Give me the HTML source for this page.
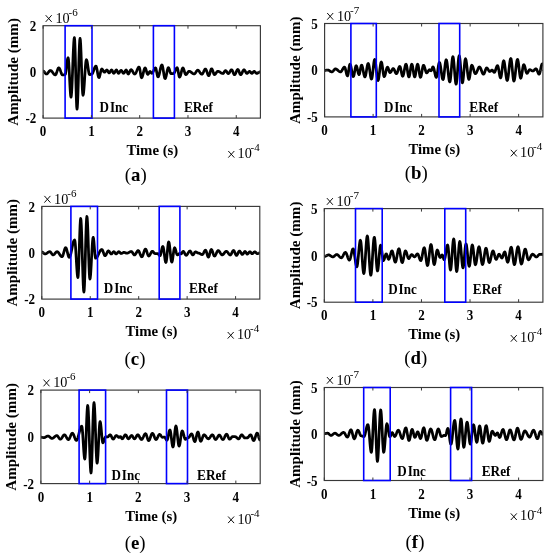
<!DOCTYPE html>
<html><head><meta charset="utf-8"><style>
html,body{margin:0;padding:0;background:#fff;width:550px;height:556px;overflow:hidden}
svg{display:block;will-change:transform}
text{font-family:"Liberation Serif", serif;fill:#000}
.tk{font-weight:bold}
.lb{font-weight:bold}
</style></head><body>
<svg width="550" height="556" viewBox="0 0 550 556">
<clipPath id="ca"><rect x="43.1" y="23.7" width="217.29999999999998" height="96.39999999999999"/></clipPath>
<path d="M43.00,71.00 L43.32,71.06 L43.64,71.24 L43.95,71.52 L44.27,71.88 L44.59,72.29 L44.91,72.71 L45.23,73.12 L45.55,73.48 L45.86,73.76 L46.18,73.94 L46.50,74.00 L46.83,73.94 L47.15,73.77 L47.48,73.49 L47.80,73.12 L48.12,72.70 L48.45,72.25 L48.77,71.80 L49.10,71.38 L49.42,71.01 L49.75,70.73 L50.07,70.56 L50.40,70.50 L50.71,70.54 L51.01,70.67 L51.32,70.87 L51.62,71.14 L51.93,71.48 L52.24,71.86 L52.54,72.27 L52.85,72.70 L53.16,73.13 L53.46,73.54 L53.77,73.92 L54.07,74.26 L54.38,74.53 L54.69,74.73 L54.99,74.86 L55.30,74.90 L55.62,74.76 L55.94,74.34 L56.25,73.67 L56.57,72.82 L56.89,71.86 L57.21,70.84 L57.53,69.88 L57.85,69.03 L58.16,68.36 L58.48,67.94 L58.80,67.80 L59.11,67.92 L59.42,68.28 L59.72,68.84 L60.03,69.58 L60.34,70.43 L60.65,71.35 L60.96,72.27 L61.27,73.12 L61.58,73.86 L61.88,74.42 L62.19,74.78 L62.50,74.90 L62.81,74.89 L63.12,74.87 L63.44,74.84 L63.75,74.80 L64.06,74.76 L64.38,74.73 L64.69,74.71 L65.00,74.70 L65.31,74.29 L65.62,73.09 L65.93,71.22 L66.24,68.86 L66.55,66.25 L66.86,63.64 L67.17,61.28 L67.48,59.41 L67.79,58.21 L68.10,57.80 L68.42,58.99 L68.74,62.40 L69.07,67.62 L69.39,74.04 L69.71,80.86 L70.03,87.27 L70.36,92.50 L70.68,95.91 L71.00,97.10 L71.31,95.90 L71.62,92.39 L71.93,86.85 L72.24,79.74 L72.55,71.63 L72.85,63.17 L73.16,55.06 L73.47,47.95 L73.78,42.41 L74.09,38.90 L74.40,37.70 L74.73,40.42 L75.05,48.17 L75.38,59.77 L75.70,73.45 L76.03,87.13 L76.35,98.73 L76.67,106.48 L77.00,109.20 L77.31,107.47 L77.61,102.44 L77.91,94.61 L78.22,84.74 L78.53,73.80 L78.83,62.86 L79.13,52.99 L79.44,45.16 L79.75,40.13 L80.05,38.40 L80.38,40.12 L80.71,45.06 L81.03,52.62 L81.36,61.91 L81.69,71.79 L82.02,81.07 L82.34,88.64 L82.67,93.58 L83.00,95.30 L83.31,94.58 L83.62,92.47 L83.93,89.16 L84.24,84.89 L84.55,80.03 L84.85,74.97 L85.16,70.11 L85.47,65.84 L85.78,62.53 L86.09,60.42 L86.40,59.70 L86.72,60.07 L87.04,61.13 L87.36,62.79 L87.68,64.88 L88.00,67.20 L88.32,69.52 L88.64,71.61 L88.96,73.27 L89.28,74.33 L89.60,74.70 L89.90,74.67 L90.20,74.59 L90.50,74.47 L90.80,74.33 L91.10,74.21 L91.40,74.13 L91.70,74.10 L92.00,74.00 L92.30,73.70 L92.60,73.23 L92.90,72.59 L93.20,71.84 L93.50,70.99 L93.80,70.10 L94.10,69.21 L94.40,68.36 L94.70,67.61 L95.00,66.97 L95.30,66.50 L95.60,66.20 L95.90,66.10 L96.20,66.38 L96.50,67.20 L96.80,68.47 L97.10,70.07 L97.40,71.85 L97.70,73.63 L98.00,75.23 L98.30,76.50 L98.60,77.32 L98.90,77.60 L99.22,77.34 L99.54,76.59 L99.87,75.45 L100.19,74.05 L100.51,72.55 L100.83,71.15 L101.16,70.01 L101.48,69.26 L101.80,69.00 L102.12,69.12 L102.45,69.47 L102.78,69.99 L103.10,70.60 L103.42,71.21 L103.75,71.73 L104.08,72.08 L104.40,72.20 L104.71,72.12 L105.03,71.88 L105.34,71.52 L105.65,71.10 L105.96,70.68 L106.28,70.32 L106.59,70.08 L106.90,70.00 L107.21,70.14 L107.53,70.55 L107.84,71.13 L108.16,71.77 L108.47,72.35 L108.79,72.76 L109.10,72.90 L109.41,72.79 L109.72,72.48 L110.04,72.00 L110.35,71.45 L110.66,70.90 L110.97,70.42 L111.29,70.11 L111.60,70.00 L111.91,70.16 L112.23,70.62 L112.54,71.28 L112.86,72.02 L113.17,72.68 L113.49,73.14 L113.80,73.30 L114.12,73.17 L114.45,72.82 L114.78,72.28 L115.10,71.65 L115.42,71.02 L115.75,70.48 L116.08,70.13 L116.40,70.00 L116.75,70.22 L117.10,70.83 L117.45,71.65 L117.80,72.48 L118.15,73.08 L118.50,73.30 L118.83,73.19 L119.15,72.88 L119.47,72.40 L119.80,71.85 L120.12,71.30 L120.45,70.82 L120.77,70.51 L121.10,70.40 L121.41,70.51 L121.72,70.82 L122.04,71.30 L122.35,71.85 L122.66,72.40 L122.97,72.88 L123.29,73.19 L123.60,73.30 L123.92,73.17 L124.25,72.82 L124.58,72.28 L124.90,71.65 L125.22,71.02 L125.55,70.48 L125.88,70.13 L126.20,70.00 L126.53,70.27 L126.87,71.00 L127.20,72.00 L127.53,73.00 L127.87,73.73 L128.20,74.00 L128.52,73.87 L128.84,73.50 L129.17,72.92 L129.49,72.22 L129.81,71.48 L130.13,70.78 L130.46,70.20 L130.78,69.83 L131.10,69.70 L131.43,69.79 L131.75,70.04 L132.08,70.44 L132.41,70.96 L132.74,71.54 L133.06,72.16 L133.39,72.74 L133.72,73.26 L134.05,73.66 L134.37,73.91 L134.70,74.00 L135.01,73.91 L135.33,73.66 L135.64,73.25 L135.96,72.70 L136.27,72.05 L136.59,71.32 L136.90,70.55 L137.21,69.78 L137.53,69.05 L137.84,68.40 L138.16,67.85 L138.47,67.44 L138.79,67.19 L139.10,67.10 L139.41,67.50 L139.72,68.65 L140.04,70.37 L140.35,72.40 L140.66,74.43 L140.97,76.15 L141.29,77.30 L141.60,77.70 L141.92,77.50 L142.24,76.92 L142.55,76.01 L142.87,74.84 L143.19,73.50 L143.51,72.10 L143.83,70.76 L144.15,69.59 L144.46,68.68 L144.78,68.10 L145.10,67.90 L145.40,68.10 L145.70,68.66 L146.00,69.53 L146.30,70.59 L146.60,71.71 L146.90,72.78 L147.20,73.64 L147.50,74.20 L147.80,74.40 L148.11,74.26 L148.43,73.85 L148.74,73.27 L149.06,72.63 L149.37,72.05 L149.69,71.64 L150.00,71.50 L150.30,71.62 L150.60,71.95 L150.90,72.40 L151.20,72.85 L151.50,73.18 L151.80,73.30 L152.11,73.21 L152.42,72.94 L152.73,72.51 L153.03,71.95 L153.34,71.30 L153.65,70.60 L153.96,69.90 L154.27,69.25 L154.57,68.69 L154.88,68.26 L155.19,67.99 L155.50,67.90 L155.81,68.24 L156.12,69.22 L156.44,70.68 L156.75,72.40 L157.06,74.12 L157.38,75.58 L157.69,76.56 L158.00,76.90 L158.30,76.73 L158.60,76.22 L158.90,75.40 L159.20,74.33 L159.50,73.06 L159.80,71.67 L160.10,70.23 L160.40,68.84 L160.70,67.57 L161.00,66.50 L161.30,65.68 L161.60,65.17 L161.90,65.00 L162.22,65.33 L162.54,66.30 L162.86,67.80 L163.18,69.70 L163.50,71.80 L163.82,73.90 L164.14,75.80 L164.46,77.30 L164.78,78.27 L165.10,78.60 L165.40,78.38 L165.70,77.73 L166.00,76.72 L166.30,75.41 L166.60,73.93 L166.90,72.37 L167.20,70.89 L167.50,69.58 L167.80,68.57 L168.10,67.92 L168.40,67.70 L168.72,67.92 L169.05,68.55 L169.38,69.49 L169.70,70.60 L170.03,71.71 L170.35,72.65 L170.68,73.28 L171.00,73.50 L171.31,73.50 L171.62,73.50 L171.94,73.50 L172.25,73.50 L172.56,73.50 L172.88,73.50 L173.19,73.50 L173.50,73.50 L173.83,73.38 L174.15,73.04 L174.48,72.50 L174.81,71.80 L175.14,71.01 L175.46,70.19 L175.79,69.40 L176.12,68.70 L176.45,68.16 L176.77,67.82 L177.10,67.70 L177.41,68.06 L177.72,69.08 L178.04,70.60 L178.35,72.40 L178.66,74.20 L178.97,75.72 L179.29,76.74 L179.60,77.10 L179.90,76.92 L180.20,76.38 L180.50,75.53 L180.80,74.44 L181.10,73.20 L181.40,71.90 L181.70,70.66 L182.00,69.57 L182.30,68.72 L182.60,68.18 L182.90,68.00 L183.22,68.20 L183.54,68.77 L183.87,69.65 L184.19,70.73 L184.51,71.87 L184.83,72.95 L185.16,73.83 L185.48,74.40 L185.80,74.60 L186.13,74.52 L186.46,74.28 L186.79,73.92 L187.12,73.46 L187.45,72.95 L187.78,72.44 L188.11,71.98 L188.44,71.62 L188.77,71.38 L189.10,71.30 L189.42,71.32 L189.74,71.40 L190.06,71.52 L190.38,71.68 L190.69,71.88 L191.01,72.10 L191.33,72.35 L191.65,72.60 L191.97,72.85 L192.29,73.10 L192.61,73.32 L192.92,73.52 L193.24,73.68 L193.56,73.80 L193.88,73.88 L194.20,73.90 L194.50,73.84 L194.80,73.65 L195.10,73.36 L195.40,72.98 L195.70,72.53 L196.00,72.05 L196.30,71.57 L196.60,71.12 L196.90,70.74 L197.20,70.45 L197.50,70.26 L197.80,70.20 L198.11,70.26 L198.42,70.43 L198.72,70.70 L199.03,71.06 L199.34,71.49 L199.65,71.96 L199.95,72.44 L200.26,72.91 L200.57,73.34 L200.88,73.70 L201.18,73.97 L201.49,74.14 L201.80,74.20 L202.11,74.11 L202.42,73.86 L202.73,73.45 L203.03,72.93 L203.34,72.31 L203.65,71.65 L203.96,70.99 L204.27,70.38 L204.57,69.85 L204.88,69.44 L205.19,69.19 L205.50,69.10 L205.82,69.26 L206.14,69.73 L206.46,70.46 L206.78,71.38 L207.10,72.40 L207.42,73.42 L207.74,74.34 L208.06,75.07 L208.38,75.54 L208.70,75.70 L209.02,75.49 L209.34,74.89 L209.67,73.98 L209.99,72.85 L210.31,71.65 L210.63,70.53 L210.96,69.61 L211.28,69.01 L211.60,68.80 L211.92,68.97 L212.24,69.48 L212.57,70.25 L212.89,71.20 L213.21,72.20 L213.53,73.15 L213.86,73.92 L214.18,74.43 L214.50,74.60 L214.80,74.53 L215.10,74.34 L215.40,74.03 L215.70,73.64 L216.00,73.18 L216.30,72.72 L216.60,72.26 L216.90,71.87 L217.20,71.56 L217.50,71.37 L217.80,71.30 L218.12,71.32 L218.44,71.38 L218.76,71.49 L219.08,71.62 L219.39,71.79 L219.71,71.98 L220.03,72.19 L220.35,72.40 L220.67,72.61 L220.99,72.82 L221.31,73.01 L221.62,73.18 L221.94,73.31 L222.26,73.42 L222.58,73.48 L222.90,73.50 L223.22,73.39 L223.55,73.08 L223.88,72.60 L224.20,72.05 L224.53,71.50 L224.85,71.02 L225.18,70.71 L225.50,70.60 L225.81,70.69 L226.12,70.95 L226.43,71.35 L226.74,71.84 L227.06,72.36 L227.37,72.85 L227.68,73.25 L227.99,73.51 L228.30,73.60 L228.63,73.51 L228.96,73.24 L229.29,72.82 L229.62,72.29 L229.95,71.70 L230.28,71.11 L230.61,70.58 L230.94,70.16 L231.27,69.89 L231.60,69.80 L231.92,69.95 L232.24,70.37 L232.57,71.03 L232.89,71.82 L233.21,72.68 L233.53,73.48 L233.86,74.13 L234.18,74.55 L234.50,74.70 L234.80,74.59 L235.10,74.29 L235.40,73.80 L235.70,73.18 L236.00,72.47 L236.30,71.73 L236.60,71.02 L236.90,70.40 L237.20,69.91 L237.50,69.61 L237.80,69.50 L238.12,69.66 L238.44,70.11 L238.77,70.80 L239.09,71.65 L239.41,72.55 L239.73,73.40 L240.06,74.09 L240.38,74.54 L240.70,74.70 L241.00,74.60 L241.30,74.31 L241.60,73.85 L241.90,73.27 L242.20,72.60 L242.50,71.90 L242.80,71.23 L243.10,70.65 L243.40,70.19 L243.70,69.90 L244.00,69.80 L244.32,69.91 L244.64,70.22 L244.97,70.70 L245.29,71.29 L245.61,71.91 L245.93,72.50 L246.26,72.98 L246.58,73.29 L246.90,73.40 L247.24,73.32 L247.57,73.11 L247.91,72.78 L248.25,72.40 L248.59,72.02 L248.93,71.69 L249.26,71.48 L249.60,71.40 L249.93,71.50 L250.26,71.78 L250.59,72.18 L250.91,72.62 L251.24,73.02 L251.57,73.30 L251.90,73.40 L252.21,73.30 L252.53,73.02 L252.84,72.62 L253.16,72.18 L253.47,71.78 L253.79,71.50 L254.10,71.40 L254.40,71.46 L254.70,71.63 L255.00,71.90 L255.30,72.23 L255.60,72.57 L255.90,72.90 L256.20,73.17 L256.50,73.34 L256.80,73.40 L257.13,73.37 L257.45,73.27 L257.78,73.12 L258.11,72.93 L258.44,72.71 L258.76,72.49 L259.09,72.27 L259.42,72.08 L259.75,71.93 L260.07,71.83 L260.40,71.80" fill="none" stroke="#000" stroke-width="2.75" stroke-linejoin="round" clip-path="url(#ca)"/>
<rect x="43.1" y="25.7" width="217.29999999999998" height="92.39999999999999" fill="none" stroke="#383838" stroke-width="1.15"/>
<rect x="65.1" y="25.7" width="26.900000000000006" height="92.39999999999999" fill="none" stroke="#0000ff" stroke-width="1.6"/>
<rect x="153.4" y="25.7" width="21.0" height="92.39999999999999" fill="none" stroke="#0000ff" stroke-width="1.6"/>
<line x1="43.10" y1="118.1" x2="43.10" y2="115.1" stroke="#383838" stroke-width="1"/>
<line x1="43.10" y1="25.7" x2="43.10" y2="28.7" stroke="#383838" stroke-width="1"/>
<text transform="translate(43.10,136.30) scale(0.885,1)" class="tk" font-size="14.7" text-anchor="middle">0</text>
<line x1="91.39" y1="118.1" x2="91.39" y2="115.1" stroke="#383838" stroke-width="1"/>
<line x1="91.39" y1="25.7" x2="91.39" y2="28.7" stroke="#383838" stroke-width="1"/>
<text transform="translate(91.39,136.30) scale(0.885,1)" class="tk" font-size="14.7" text-anchor="middle">1</text>
<line x1="139.68" y1="118.1" x2="139.68" y2="115.1" stroke="#383838" stroke-width="1"/>
<line x1="139.68" y1="25.7" x2="139.68" y2="28.7" stroke="#383838" stroke-width="1"/>
<text transform="translate(139.68,136.30) scale(0.885,1)" class="tk" font-size="14.7" text-anchor="middle">2</text>
<line x1="187.97" y1="118.1" x2="187.97" y2="115.1" stroke="#383838" stroke-width="1"/>
<line x1="187.97" y1="25.7" x2="187.97" y2="28.7" stroke="#383838" stroke-width="1"/>
<text transform="translate(187.97,136.30) scale(0.885,1)" class="tk" font-size="14.7" text-anchor="middle">3</text>
<line x1="236.26" y1="118.1" x2="236.26" y2="115.1" stroke="#383838" stroke-width="1"/>
<line x1="236.26" y1="25.7" x2="236.26" y2="28.7" stroke="#383838" stroke-width="1"/>
<text transform="translate(236.26,136.30) scale(0.885,1)" class="tk" font-size="14.7" text-anchor="middle">4</text>
<line x1="43.1" y1="71.89999999999999" x2="46.1" y2="71.89999999999999" stroke="#383838" stroke-width="1"/>
<line x1="260.4" y1="71.89999999999999" x2="257.4" y2="71.89999999999999" stroke="#383838" stroke-width="1"/>
<text transform="translate(36.30,30.80) scale(0.885,1)" class="tk" font-size="14.7" text-anchor="end">2</text>
<text transform="translate(36.30,77.00) scale(0.885,1)" class="tk" font-size="14.7" text-anchor="end">0</text>
<text transform="translate(36.30,123.20) scale(0.885,1)" class="tk" font-size="14.7" text-anchor="end">-2</text>
<path d="M45.70,15.20 L51.70,21.90 M51.70,15.20 L45.70,21.90" stroke="#000" stroke-width="0.95" fill="none"/>
<text x="55.40" y="22.80" class="ex" font-size="14.2">10</text>
<text x="68.60" y="16.00" class="ex" font-size="11">-6</text>
<path d="M228.30,151.00 L234.30,157.60 M234.30,151.00 L228.30,157.60" stroke="#000" stroke-width="0.95" fill="none"/>
<text x="237.60" y="158.00" class="ex" font-size="14.2">10</text>
<text x="250.60" y="151.20" class="ex" font-size="11">-4</text>
<text x="152.35" y="155.10" class="lb" font-size="14.8" text-anchor="middle">Time (s)</text>
<text transform="translate(18.30,71.90) rotate(-90) scale(1.02,1)" text-anchor="middle" class="lb" font-size="14.8">Amplitude (mm)</text>
<text transform="translate(99.60,111.90) scale(0.885,1)" class="lb" font-size="14.8">D<tspan dx="1.0">Inc</tspan></text>
<text transform="translate(184.00,111.90) scale(0.9,1)" class="lb" font-size="14.8">ERef</text>
<text x="135.70" y="180.60" text-anchor="middle" class="cap" font-size="18.8">(<tspan font-weight="bold">a</tspan>)</text>
<clipPath id="cb"><rect x="324.6" y="21.5" width="218.29999999999995" height="97.4"/></clipPath>
<path d="M324.60,70.40 L324.92,70.39 L325.24,70.36 L325.56,70.32 L325.88,70.26 L326.20,70.20 L326.52,70.14 L326.84,70.08 L327.16,70.04 L327.48,70.01 L327.80,70.00 L328.11,70.03 L328.42,70.11 L328.72,70.24 L329.03,70.41 L329.34,70.61 L329.65,70.84 L329.95,71.06 L330.26,71.29 L330.57,71.49 L330.88,71.66 L331.18,71.79 L331.49,71.87 L331.80,71.90 L332.11,71.85 L332.42,71.70 L332.73,71.46 L333.03,71.15 L333.34,70.79 L333.65,70.40 L333.96,70.01 L334.27,69.65 L334.57,69.34 L334.88,69.10 L335.19,68.95 L335.50,68.90 L335.81,68.93 L336.12,69.01 L336.44,69.15 L336.75,69.34 L337.06,69.57 L337.38,69.83 L337.69,70.11 L338.00,70.40 L338.31,70.69 L338.62,70.97 L338.94,71.23 L339.25,71.46 L339.56,71.65 L339.88,71.79 L340.19,71.87 L340.50,71.90 L340.81,71.83 L341.12,71.63 L341.42,71.30 L341.73,70.86 L342.04,70.35 L342.35,69.79 L342.65,69.21 L342.96,68.65 L343.27,68.14 L343.58,67.70 L343.88,67.37 L344.19,67.17 L344.50,67.10 L344.80,67.32 L345.10,67.94 L345.40,68.91 L345.70,70.14 L346.00,71.50 L346.30,72.86 L346.60,74.09 L346.90,75.06 L347.20,75.68 L347.50,75.90 L347.81,75.45 L348.12,74.19 L348.44,72.29 L348.75,70.05 L349.06,67.81 L349.38,65.91 L349.69,64.65 L350.00,64.20 L350.30,64.45 L350.60,65.18 L350.90,66.34 L351.20,67.82 L351.50,69.52 L351.80,71.28 L352.10,72.98 L352.40,74.46 L352.70,75.62 L353.00,76.35 L353.30,76.60 L353.62,76.27 L353.94,75.32 L354.27,73.88 L354.59,72.10 L354.91,70.20 L355.23,68.43 L355.56,66.98 L355.88,66.03 L356.20,65.70 L356.51,65.97 L356.82,66.74 L357.13,67.92 L357.44,69.38 L357.76,70.92 L358.07,72.38 L358.38,73.56 L358.69,74.33 L359.00,74.60 L359.32,74.24 L359.65,73.21 L359.98,71.67 L360.30,69.85 L360.62,68.03 L360.95,66.49 L361.28,65.46 L361.60,65.10 L361.93,65.39 L362.26,66.23 L362.59,67.53 L362.92,69.18 L363.25,71.00 L363.58,72.82 L363.91,74.47 L364.24,75.77 L364.57,76.61 L364.90,76.90 L365.20,76.63 L365.50,75.84 L365.80,74.59 L366.10,72.98 L366.40,71.15 L366.70,69.25 L367.00,67.42 L367.30,65.81 L367.60,64.56 L367.90,63.77 L368.20,63.50 L368.50,63.82 L368.80,64.74 L369.10,66.19 L369.40,68.06 L369.70,70.19 L370.00,72.41 L370.30,74.54 L370.60,76.41 L370.90,77.86 L371.20,78.78 L371.50,79.10 L371.82,78.62 L372.14,77.23 L372.46,75.06 L372.78,72.33 L373.10,69.30 L373.42,66.27 L373.74,63.54 L374.06,61.37 L374.38,59.98 L374.70,59.50 L375.00,59.93 L375.30,61.17 L375.60,63.12 L375.90,65.64 L376.20,68.51 L376.50,71.49 L376.80,74.36 L377.10,76.88 L377.40,78.83 L377.70,80.07 L378.00,80.50 L378.30,80.13 L378.60,79.03 L378.90,77.31 L379.20,75.09 L379.50,72.57 L379.80,69.93 L380.10,67.41 L380.40,65.19 L380.70,63.47 L381.00,62.37 L381.30,62.00 L381.62,62.44 L381.94,63.71 L382.27,65.65 L382.59,68.03 L382.91,70.57 L383.23,72.95 L383.56,74.89 L383.88,76.16 L384.20,76.60 L384.50,76.41 L384.80,75.85 L385.10,74.96 L385.40,73.82 L385.70,72.53 L386.00,71.17 L386.30,69.88 L386.60,68.74 L386.90,67.85 L387.20,67.29 L387.50,67.10 L387.81,67.31 L388.12,67.91 L388.44,68.80 L388.75,69.85 L389.06,70.90 L389.38,71.79 L389.69,72.39 L390.00,72.60 L390.30,72.52 L390.60,72.28 L390.90,71.91 L391.20,71.43 L391.50,70.88 L391.80,70.32 L392.10,69.77 L392.40,69.29 L392.70,68.92 L393.00,68.68 L393.30,68.60 L393.61,68.72 L393.92,69.09 L394.23,69.65 L394.54,70.36 L394.85,71.15 L395.16,71.94 L395.47,72.65 L395.78,73.21 L396.09,73.58 L396.40,73.70 L396.71,73.55 L397.02,73.12 L397.33,72.44 L397.64,71.57 L397.95,70.57 L398.25,69.53 L398.56,68.53 L398.87,67.66 L399.18,66.98 L399.49,66.55 L399.80,66.40 L400.12,66.70 L400.44,67.55 L400.77,68.85 L401.09,70.45 L401.41,72.15 L401.73,73.75 L402.06,75.05 L402.38,75.90 L402.70,76.20 L403.00,75.96 L403.30,75.25 L403.60,74.13 L403.90,72.69 L404.20,71.05 L404.50,69.35 L404.80,67.71 L405.10,66.27 L405.40,65.15 L405.70,64.44 L406.00,64.20 L406.32,64.58 L406.64,65.69 L406.97,67.38 L407.29,69.45 L407.61,71.65 L407.93,73.73 L408.26,75.41 L408.58,76.52 L408.90,76.90 L409.22,76.52 L409.54,75.41 L409.87,73.73 L410.19,71.65 L410.51,69.45 L410.83,67.38 L411.16,65.69 L411.48,64.58 L411.80,64.20 L412.12,64.58 L412.44,65.69 L412.77,67.38 L413.09,69.45 L413.41,71.65 L413.73,73.73 L414.06,75.41 L414.38,76.52 L414.70,76.90 L415.02,76.52 L415.34,75.41 L415.67,73.73 L415.99,71.65 L416.31,69.45 L416.63,67.38 L416.96,65.69 L417.28,64.58 L417.60,64.20 L417.92,64.60 L418.24,65.73 L418.57,67.48 L418.89,69.61 L419.21,71.89 L419.53,74.03 L419.86,75.77 L420.18,76.90 L420.50,77.30 L420.80,77.01 L421.10,76.15 L421.40,74.83 L421.70,73.15 L422.00,71.30 L422.30,69.45 L422.60,67.77 L422.90,66.45 L423.20,65.59 L423.50,65.30 L423.82,65.49 L424.14,66.03 L424.46,66.87 L424.78,67.93 L425.10,69.10 L425.42,70.27 L425.74,71.33 L426.06,72.17 L426.38,72.71 L426.70,72.90 L427.02,72.80 L427.34,72.53 L427.67,72.10 L427.99,71.58 L428.31,71.02 L428.63,70.50 L428.96,70.07 L429.28,69.80 L429.60,69.70 L429.90,69.81 L430.20,70.08 L430.50,70.42 L430.80,70.69 L431.10,70.80 L431.42,70.54 L431.73,69.83 L432.05,68.85 L432.37,67.88 L432.68,67.16 L433.00,66.90 L433.30,67.11 L433.60,67.73 L433.90,68.69 L434.20,69.94 L434.50,71.36 L434.80,72.84 L435.10,74.26 L435.40,75.51 L435.70,76.47 L436.00,77.09 L436.30,77.30 L436.61,76.94 L436.92,75.89 L437.23,74.25 L437.54,72.19 L437.85,69.90 L438.16,67.61 L438.47,65.55 L438.78,63.91 L439.09,62.86 L439.40,62.50 L439.70,62.79 L440.00,63.65 L440.30,65.00 L440.60,66.77 L440.90,68.84 L441.20,71.05 L441.50,73.26 L441.80,75.32 L442.10,77.10 L442.40,78.45 L442.70,79.31 L443.00,79.60 L443.32,79.12 L443.64,77.71 L443.96,75.52 L444.28,72.76 L444.60,69.70 L444.92,66.64 L445.24,63.88 L445.56,61.69 L445.88,60.28 L446.20,59.80 L446.50,60.18 L446.80,61.28 L447.10,63.04 L447.40,65.33 L447.70,67.99 L448.00,70.85 L448.30,73.71 L448.60,76.38 L448.90,78.66 L449.20,80.42 L449.50,81.52 L449.80,81.90 L450.11,81.28 L450.42,79.49 L450.73,76.71 L451.04,73.19 L451.35,69.30 L451.66,65.41 L451.97,61.89 L452.28,59.11 L452.59,57.32 L452.90,56.70 L453.22,57.37 L453.54,59.32 L453.86,62.35 L454.18,66.17 L454.50,70.40 L454.82,74.63 L455.14,78.45 L455.46,81.48 L455.78,83.43 L456.10,84.10 L456.41,83.41 L456.72,81.40 L457.03,78.27 L457.34,74.32 L457.65,69.95 L457.96,65.58 L458.27,61.63 L458.58,58.50 L458.89,56.49 L459.20,55.80 L459.52,56.46 L459.84,58.38 L460.16,61.36 L460.48,65.13 L460.80,69.30 L461.12,73.47 L461.44,77.24 L461.76,80.22 L462.08,82.14 L462.40,82.80 L462.71,82.21 L463.02,80.51 L463.33,77.85 L463.64,74.51 L463.95,70.80 L464.26,67.09 L464.57,63.75 L464.88,61.09 L465.19,59.39 L465.50,58.80 L465.81,59.22 L466.12,60.44 L466.43,62.35 L466.74,64.82 L467.05,67.63 L467.35,70.57 L467.66,73.38 L467.97,75.85 L468.28,77.76 L468.59,78.98 L468.90,79.40 L469.22,78.97 L469.54,77.74 L469.87,75.85 L470.19,73.53 L470.51,71.07 L470.83,68.75 L471.16,66.86 L471.48,65.63 L471.80,65.20 L472.13,65.37 L472.45,65.87 L472.78,66.67 L473.11,67.68 L473.44,68.85 L473.76,70.05 L474.09,71.22 L474.42,72.23 L474.75,73.03 L475.07,73.53 L475.40,73.70 L475.72,73.60 L476.03,73.32 L476.35,72.86 L476.66,72.25 L476.98,71.54 L477.29,70.75 L477.61,69.95 L477.92,69.16 L478.24,68.45 L478.55,67.84 L478.87,67.38 L479.18,67.10 L479.50,67.00 L479.81,67.10 L480.12,67.41 L480.42,67.91 L480.73,68.55 L481.04,69.32 L481.35,70.17 L481.65,71.03 L481.96,71.88 L482.27,72.65 L482.58,73.29 L482.88,73.79 L483.19,74.10 L483.50,74.20 L483.82,74.05 L484.14,73.60 L484.46,72.90 L484.78,72.02 L485.10,71.05 L485.42,70.08 L485.74,69.20 L486.06,68.50 L486.38,68.05 L486.70,67.90 L487.01,67.99 L487.32,68.24 L487.63,68.64 L487.94,69.14 L488.25,69.70 L488.56,70.26 L488.87,70.76 L489.18,71.16 L489.49,71.41 L489.80,71.50 L490.13,71.43 L490.46,71.24 L490.79,70.96 L491.11,70.64 L491.44,70.36 L491.77,70.17 L492.10,70.10 L492.41,70.21 L492.73,70.53 L493.04,70.99 L493.36,71.51 L493.67,71.97 L493.99,72.29 L494.30,72.40 L494.62,72.23 L494.94,71.75 L495.26,71.00 L495.58,70.05 L495.90,69.00 L496.22,67.95 L496.54,67.00 L496.86,66.25 L497.18,65.77 L497.50,65.60 L497.81,65.90 L498.12,66.77 L498.43,68.14 L498.74,69.85 L499.05,71.75 L499.36,73.65 L499.67,75.36 L499.98,76.73 L500.29,77.60 L500.60,77.90 L500.91,77.48 L501.22,76.27 L501.53,74.38 L501.84,71.99 L502.15,69.35 L502.46,66.71 L502.77,64.32 L503.08,62.43 L503.39,61.22 L503.70,60.80 L504.02,61.20 L504.34,62.36 L504.65,64.20 L504.97,66.56 L505.29,69.25 L505.61,72.05 L505.93,74.74 L506.25,77.10 L506.56,78.94 L506.88,80.10 L507.20,80.50 L507.50,80.13 L507.80,79.03 L508.10,77.28 L508.40,75.00 L508.70,72.35 L509.00,69.50 L509.30,66.65 L509.60,64.00 L509.90,61.72 L510.20,59.97 L510.50,58.87 L510.80,58.50 L511.11,59.05 L511.42,60.65 L511.73,63.14 L512.04,66.27 L512.35,69.75 L512.66,73.23 L512.97,76.36 L513.28,78.85 L513.59,80.45 L513.90,81.00 L514.20,80.63 L514.50,79.55 L514.80,77.84 L515.10,75.60 L515.40,73.00 L515.70,70.20 L516.00,67.40 L516.30,64.80 L516.60,62.56 L516.90,60.85 L517.20,59.77 L517.50,59.40 L517.82,59.86 L518.14,61.20 L518.46,63.27 L518.78,65.90 L519.10,68.80 L519.42,71.70 L519.74,74.33 L520.06,76.40 L520.38,77.74 L520.70,78.20 L521.01,77.87 L521.32,76.91 L521.63,75.42 L521.94,73.54 L522.25,71.45 L522.56,69.36 L522.87,67.48 L523.18,65.99 L523.49,65.03 L523.80,64.70 L524.12,64.91 L524.44,65.52 L524.76,66.47 L525.08,67.67 L525.40,69.00 L525.72,70.33 L526.04,71.53 L526.36,72.48 L526.68,73.09 L527.00,73.30 L527.30,73.19 L527.60,72.88 L527.90,72.40 L528.20,71.81 L528.50,71.19 L528.80,70.60 L529.10,70.12 L529.40,69.81 L529.70,69.70 L530.01,69.73 L530.32,69.82 L530.63,69.97 L530.94,70.15 L531.25,70.35 L531.56,70.55 L531.87,70.73 L532.18,70.88 L532.49,70.97 L532.80,71.00 L533.12,70.95 L533.44,70.79 L533.76,70.55 L534.08,70.24 L534.40,69.90 L534.72,69.56 L535.04,69.25 L535.36,69.01 L535.68,68.85 L536.00,68.80 L536.31,68.93 L536.62,69.32 L536.93,69.91 L537.24,70.67 L537.55,71.50 L537.86,72.33 L538.17,73.09 L538.48,73.68 L538.79,74.07 L539.10,74.20 L539.42,73.95 L539.74,73.21 L540.06,72.06 L540.38,70.61 L540.70,69.00 L541.02,67.39 L541.34,65.94 L541.66,64.79 L541.98,64.05 L542.30,63.80 L542.60,63.90 L542.90,64.00" fill="none" stroke="#000" stroke-width="2.75" stroke-linejoin="round" clip-path="url(#cb)"/>
<rect x="324.6" y="23.5" width="218.29999999999995" height="93.4" fill="none" stroke="#383838" stroke-width="1.15"/>
<rect x="350.9" y="23.5" width="25.400000000000034" height="93.4" fill="none" stroke="#0000ff" stroke-width="1.6"/>
<rect x="439" y="23.5" width="20.69999999999999" height="93.4" fill="none" stroke="#0000ff" stroke-width="1.6"/>
<line x1="324.60" y1="116.9" x2="324.60" y2="113.9" stroke="#383838" stroke-width="1"/>
<line x1="324.60" y1="23.5" x2="324.60" y2="26.5" stroke="#383838" stroke-width="1"/>
<text transform="translate(324.60,135.10) scale(0.885,1)" class="tk" font-size="14.7" text-anchor="middle">0</text>
<line x1="373.11" y1="116.9" x2="373.11" y2="113.9" stroke="#383838" stroke-width="1"/>
<line x1="373.11" y1="23.5" x2="373.11" y2="26.5" stroke="#383838" stroke-width="1"/>
<text transform="translate(373.11,135.10) scale(0.885,1)" class="tk" font-size="14.7" text-anchor="middle">1</text>
<line x1="421.62" y1="116.9" x2="421.62" y2="113.9" stroke="#383838" stroke-width="1"/>
<line x1="421.62" y1="23.5" x2="421.62" y2="26.5" stroke="#383838" stroke-width="1"/>
<text transform="translate(421.62,135.10) scale(0.885,1)" class="tk" font-size="14.7" text-anchor="middle">2</text>
<line x1="470.13" y1="116.9" x2="470.13" y2="113.9" stroke="#383838" stroke-width="1"/>
<line x1="470.13" y1="23.5" x2="470.13" y2="26.5" stroke="#383838" stroke-width="1"/>
<text transform="translate(470.13,135.10) scale(0.885,1)" class="tk" font-size="14.7" text-anchor="middle">3</text>
<line x1="518.64" y1="116.9" x2="518.64" y2="113.9" stroke="#383838" stroke-width="1"/>
<line x1="518.64" y1="23.5" x2="518.64" y2="26.5" stroke="#383838" stroke-width="1"/>
<text transform="translate(518.64,135.10) scale(0.885,1)" class="tk" font-size="14.7" text-anchor="middle">4</text>
<line x1="324.6" y1="70.2" x2="327.6" y2="70.2" stroke="#383838" stroke-width="1"/>
<line x1="542.9" y1="70.2" x2="539.9" y2="70.2" stroke="#383838" stroke-width="1"/>
<text transform="translate(317.80,28.60) scale(0.885,1)" class="tk" font-size="14.7" text-anchor="end">5</text>
<text transform="translate(317.80,75.30) scale(0.885,1)" class="tk" font-size="14.7" text-anchor="end">0</text>
<text transform="translate(317.80,122.00) scale(0.885,1)" class="tk" font-size="14.7" text-anchor="end">-5</text>
<path d="M327.20,13.00 L333.20,19.70 M333.20,13.00 L327.20,19.70" stroke="#000" stroke-width="0.95" fill="none"/>
<text x="336.90" y="20.60" class="ex" font-size="14.2">10</text>
<text x="350.10" y="13.80" class="ex" font-size="11">-7</text>
<path d="M510.80,149.80 L516.80,156.40 M516.80,149.80 L510.80,156.40" stroke="#000" stroke-width="0.95" fill="none"/>
<text x="520.10" y="156.80" class="ex" font-size="14.2">10</text>
<text x="533.10" y="150.00" class="ex" font-size="11">-4</text>
<text x="434.35" y="153.90" class="lb" font-size="14.8" text-anchor="middle">Time (s)</text>
<text transform="translate(299.80,70.20) rotate(-90) scale(1.02,1)" text-anchor="middle" class="lb" font-size="14.8">Amplitude (mm)</text>
<text transform="translate(383.90,112.20) scale(0.885,1)" class="lb" font-size="14.8">D<tspan dx="1.0">Inc</tspan></text>
<text transform="translate(469.30,112.20) scale(0.9,1)" class="lb" font-size="14.8">ERef</text>
<text x="416.30" y="179.00" text-anchor="middle" class="cap" font-size="18.8">(<tspan font-weight="bold">b</tspan>)</text>
<clipPath id="cc"><rect x="41.8" y="204.4" width="218.0" height="96.70000000000002"/></clipPath>
<path d="M41.80,252.00 L42.10,252.04 L42.40,252.15 L42.70,252.33 L43.00,252.56 L43.30,252.81 L43.60,253.09 L43.90,253.34 L44.20,253.57 L44.50,253.75 L44.80,253.86 L45.10,253.90 L45.41,253.88 L45.73,253.80 L46.04,253.69 L46.35,253.54 L46.67,253.35 L46.98,253.14 L47.29,252.91 L47.61,252.69 L47.92,252.46 L48.23,252.25 L48.55,252.06 L48.86,251.91 L49.17,251.80 L49.49,251.72 L49.80,251.70 L50.10,251.76 L50.40,251.95 L50.70,252.25 L51.00,252.64 L51.30,253.07 L51.60,253.53 L51.90,253.96 L52.20,254.35 L52.50,254.65 L52.80,254.84 L53.10,254.90 L53.41,254.85 L53.72,254.72 L54.02,254.50 L54.33,254.21 L54.64,253.87 L54.95,253.49 L55.25,253.11 L55.56,252.73 L55.87,252.39 L56.18,252.10 L56.48,251.88 L56.79,251.75 L57.10,251.70 L57.41,251.75 L57.71,251.89 L58.02,252.12 L58.33,252.43 L58.63,252.81 L58.94,253.24 L59.24,253.71 L59.55,254.20 L59.86,254.69 L60.16,255.16 L60.47,255.59 L60.77,255.97 L61.08,256.28 L61.39,256.51 L61.69,256.65 L62.00,256.70 L62.31,256.55 L62.62,256.10 L62.92,255.38 L63.23,254.45 L63.54,253.36 L63.85,252.20 L64.16,251.04 L64.47,249.95 L64.78,249.02 L65.08,248.30 L65.39,247.85 L65.70,247.70 L66.02,247.89 L66.34,248.46 L66.65,249.36 L66.97,250.51 L67.29,251.82 L67.61,253.18 L67.93,254.49 L68.25,255.64 L68.56,256.54 L68.88,257.11 L69.20,257.30 L69.52,257.15 L69.84,256.72 L70.15,256.00 L70.47,255.04 L70.79,253.86 L71.11,252.51 L71.42,251.02 L71.74,249.45 L72.06,247.85 L72.38,246.28 L72.69,244.79 L73.01,243.44 L73.33,242.26 L73.65,241.30 L73.96,240.58 L74.28,240.15 L74.60,240.00 L74.90,240.76 L75.20,242.98 L75.50,246.47 L75.80,250.96 L76.10,256.08 L76.40,261.42 L76.70,266.54 L77.00,271.03 L77.30,274.52 L77.60,276.74 L77.90,277.50 L78.21,275.72 L78.52,270.60 L78.83,262.75 L79.14,253.12 L79.46,242.88 L79.77,233.25 L80.08,225.40 L80.39,220.28 L80.70,218.50 L81.02,220.30 L81.34,225.53 L81.66,233.67 L81.98,243.93 L82.30,255.30 L82.62,266.67 L82.94,276.93 L83.26,285.07 L83.58,290.30 L83.90,292.10 L84.20,290.25 L84.50,284.88 L84.80,276.52 L85.10,265.98 L85.40,254.30 L85.70,242.62 L86.00,232.08 L86.30,223.72 L86.60,218.35 L86.90,216.50 L87.20,218.03 L87.50,222.48 L87.80,229.40 L88.10,238.13 L88.40,247.80 L88.70,257.47 L89.00,266.20 L89.30,273.12 L89.60,277.57 L89.90,279.10 L90.23,278.08 L90.56,275.12 L90.89,270.51 L91.22,264.69 L91.55,258.25 L91.88,251.81 L92.21,245.99 L92.54,241.38 L92.87,238.42 L93.20,237.40 L93.54,238.43 L93.89,241.32 L94.23,245.49 L94.57,250.11 L94.91,254.28 L95.26,257.17 L95.60,258.20 L95.91,258.15 L96.22,257.99 L96.53,257.73 L96.84,257.37 L97.15,256.93 L97.46,256.41 L97.77,255.82 L98.08,255.19 L98.39,254.53 L98.70,253.85 L99.01,253.17 L99.32,252.51 L99.63,251.88 L99.94,251.29 L100.25,250.77 L100.56,250.33 L100.87,249.97 L101.18,249.71 L101.49,249.55 L101.80,249.50 L102.13,249.65 L102.46,250.09 L102.79,250.78 L103.12,251.64 L103.45,252.60 L103.78,253.56 L104.11,254.42 L104.44,255.11 L104.77,255.55 L105.10,255.70 L105.40,255.60 L105.70,255.32 L106.00,254.87 L106.30,254.30 L106.60,253.64 L106.90,252.96 L107.20,252.30 L107.50,251.73 L107.80,251.28 L108.10,251.00 L108.40,250.90 L108.72,250.99 L109.04,251.25 L109.37,251.65 L109.69,252.14 L110.01,252.66 L110.33,253.15 L110.66,253.55 L110.98,253.81 L111.30,253.90 L111.61,253.82 L111.92,253.58 L112.24,253.22 L112.55,252.80 L112.86,252.38 L113.17,252.02 L113.49,251.78 L113.80,251.70 L114.11,251.81 L114.43,252.11 L114.74,252.56 L115.06,253.04 L115.37,253.49 L115.69,253.79 L116.00,253.90 L116.32,253.83 L116.64,253.64 L116.97,253.35 L117.29,252.99 L117.61,252.61 L117.93,252.25 L118.26,251.96 L118.58,251.77 L118.90,251.70 L119.21,251.79 L119.53,252.04 L119.84,252.40 L120.16,252.80 L120.47,253.16 L120.79,253.41 L121.10,253.50 L121.42,253.47 L121.74,253.37 L122.07,253.22 L122.39,253.05 L122.71,252.85 L123.03,252.68 L123.36,252.53 L123.68,252.43 L124.00,252.40 L124.31,252.42 L124.62,252.49 L124.93,252.60 L125.24,252.73 L125.56,252.87 L125.87,253.00 L126.18,253.11 L126.49,253.18 L126.80,253.20 L127.10,253.18 L127.40,253.13 L127.70,253.04 L128.00,252.92 L128.30,252.78 L128.60,252.61 L128.90,252.44 L129.20,252.26 L129.50,252.09 L129.80,251.93 L130.10,251.78 L130.40,251.66 L130.70,251.57 L131.00,251.52 L131.30,251.50 L131.62,251.58 L131.94,251.82 L132.26,252.20 L132.58,252.67 L132.90,253.20 L133.22,253.73 L133.54,254.20 L133.86,254.58 L134.18,254.82 L134.50,254.90 L134.81,254.83 L135.12,254.61 L135.43,254.27 L135.73,253.83 L136.04,253.31 L136.35,252.75 L136.66,252.19 L136.97,251.68 L137.27,251.23 L137.58,250.89 L137.89,250.67 L138.20,250.60 L138.50,250.71 L138.80,251.02 L139.10,251.51 L139.40,252.15 L139.70,252.90 L140.00,253.70 L140.30,254.50 L140.60,255.25 L140.90,255.89 L141.20,256.38 L141.50,256.69 L141.80,256.80 L142.11,256.67 L142.42,256.28 L142.73,255.67 L143.03,254.87 L143.34,253.95 L143.65,252.95 L143.96,251.95 L144.27,251.02 L144.57,250.23 L144.88,249.62 L145.19,249.23 L145.50,249.10 L145.82,249.27 L146.14,249.76 L146.46,250.52 L146.78,251.48 L147.10,252.55 L147.42,253.62 L147.74,254.58 L148.06,255.34 L148.38,255.83 L148.70,256.00 L149.01,255.92 L149.32,255.69 L149.62,255.31 L149.93,254.83 L150.24,254.26 L150.55,253.65 L150.86,253.04 L151.17,252.48 L151.47,251.99 L151.78,251.61 L152.09,251.38 L152.40,251.30 L152.71,251.38 L153.03,251.62 L153.34,251.98 L153.65,252.40 L153.96,252.82 L154.28,253.18 L154.59,253.42 L154.90,253.50 L155.22,253.50 L155.55,253.50 L155.88,253.50 L156.20,253.50 L156.53,253.50 L156.85,253.50 L157.18,253.50 L157.50,253.50 L157.81,253.58 L158.12,253.82 L158.44,254.18 L158.75,254.60 L159.06,255.02 L159.38,255.38 L159.69,255.62 L160.00,255.70 L160.31,255.42 L160.62,254.61 L160.93,253.38 L161.24,251.86 L161.56,250.24 L161.87,248.73 L162.18,247.49 L162.49,246.68 L162.80,246.40 L163.11,246.79 L163.42,247.94 L163.73,249.72 L164.04,251.96 L164.35,254.45 L164.66,256.94 L164.97,259.18 L165.28,260.96 L165.59,262.11 L165.90,262.50 L166.21,261.88 L166.52,260.09 L166.83,257.35 L167.14,253.99 L167.46,250.41 L167.77,247.05 L168.08,244.31 L168.39,242.52 L168.70,241.90 L169.01,242.39 L169.32,243.83 L169.63,246.06 L169.94,248.88 L170.25,252.00 L170.56,255.12 L170.87,257.94 L171.18,260.17 L171.49,261.61 L171.80,262.10 L172.11,261.67 L172.42,260.43 L172.73,258.52 L173.04,256.19 L173.36,253.71 L173.67,251.38 L173.98,249.47 L174.29,248.23 L174.60,247.80 L174.91,248.01 L175.22,248.63 L175.53,249.58 L175.84,250.73 L176.16,251.97 L176.47,253.12 L176.78,254.07 L177.09,254.69 L177.40,254.90 L177.70,254.84 L178.00,254.68 L178.30,254.44 L178.60,254.15 L178.90,253.86 L179.20,253.62 L179.50,253.46 L179.80,253.40 L180.20,253.53 L180.60,253.78 L181.00,253.90 L181.33,253.78 L181.66,253.43 L181.99,252.93 L182.31,252.37 L182.64,251.87 L182.97,251.52 L183.30,251.40 L183.61,251.52 L183.92,251.86 L184.23,252.38 L184.54,253.01 L184.86,253.69 L185.17,254.33 L185.48,254.84 L185.79,255.18 L186.10,255.30 L186.40,255.24 L186.70,255.05 L187.00,254.76 L187.30,254.37 L187.60,253.91 L187.90,253.41 L188.20,252.89 L188.50,252.39 L188.80,251.93 L189.10,251.54 L189.40,251.25 L189.70,251.06 L190.00,251.00 L190.31,251.12 L190.62,251.46 L190.93,251.97 L191.24,252.61 L191.56,253.29 L191.87,253.93 L192.18,254.44 L192.49,254.78 L192.80,254.90 L193.14,254.79 L193.48,254.46 L193.81,253.97 L194.15,253.40 L194.49,252.83 L194.82,252.34 L195.16,252.01 L195.50,251.90 L195.80,251.93 L196.10,252.01 L196.40,252.15 L196.70,252.31 L197.00,252.50 L197.30,252.69 L197.60,252.85 L197.90,252.99 L198.20,253.07 L198.50,253.10 L198.81,253.13 L199.12,253.20 L199.43,253.32 L199.73,253.47 L200.04,253.66 L200.35,253.85 L200.66,254.04 L200.97,254.22 L201.27,254.38 L201.58,254.50 L201.89,254.57 L202.20,254.60 L202.50,254.51 L202.80,254.25 L203.10,253.84 L203.40,253.31 L203.70,252.71 L204.00,252.09 L204.30,251.49 L204.60,250.96 L204.90,250.55 L205.20,250.29 L205.50,250.20 L205.82,250.41 L206.14,251.01 L206.47,251.93 L206.79,253.05 L207.11,254.25 L207.43,255.37 L207.76,256.29 L208.08,256.89 L208.40,257.10 L208.72,256.87 L209.04,256.21 L209.37,255.20 L209.69,253.96 L210.01,252.64 L210.33,251.40 L210.66,250.39 L210.98,249.73 L211.30,249.50 L211.62,249.66 L211.94,250.12 L212.26,250.84 L212.58,251.75 L212.90,252.75 L213.22,253.75 L213.54,254.66 L213.86,255.38 L214.18,255.84 L214.50,256.00 L214.81,255.91 L215.12,255.64 L215.43,255.21 L215.73,254.65 L216.04,254.00 L216.35,253.30 L216.66,252.60 L216.97,251.95 L217.27,251.39 L217.58,250.96 L217.89,250.69 L218.20,250.60 L218.51,250.66 L218.82,250.85 L219.12,251.14 L219.43,251.53 L219.74,251.99 L220.05,252.49 L220.35,253.01 L220.66,253.51 L220.97,253.97 L221.28,254.36 L221.58,254.65 L221.89,254.84 L222.20,254.90 L222.52,254.85 L222.83,254.69 L223.15,254.45 L223.46,254.12 L223.78,253.74 L224.09,253.32 L224.41,252.88 L224.72,252.46 L225.04,252.08 L225.35,251.75 L225.67,251.51 L225.98,251.35 L226.30,251.30 L226.61,251.35 L226.92,251.51 L227.22,251.77 L227.53,252.10 L227.84,252.49 L228.15,252.93 L228.45,253.37 L228.76,253.81 L229.07,254.20 L229.38,254.53 L229.68,254.79 L229.99,254.95 L230.30,255.00 L230.62,254.89 L230.94,254.57 L231.26,254.07 L231.58,253.45 L231.90,252.75 L232.22,252.05 L232.54,251.43 L232.86,250.93 L233.18,250.61 L233.50,250.50 L233.80,250.62 L234.10,250.97 L234.40,251.51 L234.70,252.19 L235.00,252.95 L235.30,253.71 L235.60,254.39 L235.90,254.93 L236.20,255.28 L236.50,255.40 L236.82,255.27 L237.14,254.90 L237.47,254.33 L237.79,253.62 L238.11,252.88 L238.43,252.18 L238.76,251.60 L239.08,251.23 L239.40,251.10 L239.70,251.18 L240.00,251.42 L240.30,251.78 L240.60,252.24 L240.90,252.75 L241.20,253.26 L241.50,253.72 L241.80,254.08 L242.10,254.32 L242.40,254.40 L242.72,254.29 L243.05,253.98 L243.38,253.50 L243.70,252.95 L244.03,252.40 L244.35,251.92 L244.68,251.61 L245.00,251.50 L245.33,251.63 L245.66,251.99 L245.99,252.51 L246.31,253.09 L246.64,253.61 L246.97,253.97 L247.30,254.10 L247.62,254.01 L247.95,253.76 L248.28,253.39 L248.60,252.95 L248.93,252.51 L249.25,252.14 L249.58,251.89 L249.90,251.80 L250.23,251.89 L250.56,252.16 L250.89,252.54 L251.21,252.96 L251.54,253.34 L251.87,253.61 L252.20,253.70 L252.52,253.63 L252.85,253.42 L253.18,253.11 L253.50,252.75 L253.82,252.39 L254.15,252.08 L254.48,251.87 L254.80,251.80 L255.12,251.87 L255.45,252.08 L255.78,252.39 L256.10,252.75 L256.43,253.11 L256.75,253.42 L257.07,253.63 L257.40,253.70 L257.70,253.67 L258.00,253.57 L258.30,253.42 L258.60,253.25 L258.90,253.08 L259.20,252.93 L259.50,252.83 L259.80,252.80" fill="none" stroke="#000" stroke-width="2.75" stroke-linejoin="round" clip-path="url(#cc)"/>
<rect x="41.8" y="206.4" width="218.0" height="92.70000000000002" fill="none" stroke="#383838" stroke-width="1.15"/>
<rect x="70.9" y="206.4" width="26.599999999999994" height="92.70000000000002" fill="none" stroke="#0000ff" stroke-width="1.6"/>
<rect x="159.2" y="206.4" width="20.700000000000017" height="92.70000000000002" fill="none" stroke="#0000ff" stroke-width="1.6"/>
<line x1="41.80" y1="299.1" x2="41.80" y2="296.1" stroke="#383838" stroke-width="1"/>
<line x1="41.80" y1="206.4" x2="41.80" y2="209.4" stroke="#383838" stroke-width="1"/>
<text transform="translate(41.80,317.30) scale(0.885,1)" class="tk" font-size="14.7" text-anchor="middle">0</text>
<line x1="90.24" y1="299.1" x2="90.24" y2="296.1" stroke="#383838" stroke-width="1"/>
<line x1="90.24" y1="206.4" x2="90.24" y2="209.4" stroke="#383838" stroke-width="1"/>
<text transform="translate(90.24,317.30) scale(0.885,1)" class="tk" font-size="14.7" text-anchor="middle">1</text>
<line x1="138.69" y1="299.1" x2="138.69" y2="296.1" stroke="#383838" stroke-width="1"/>
<line x1="138.69" y1="206.4" x2="138.69" y2="209.4" stroke="#383838" stroke-width="1"/>
<text transform="translate(138.69,317.30) scale(0.885,1)" class="tk" font-size="14.7" text-anchor="middle">2</text>
<line x1="187.13" y1="299.1" x2="187.13" y2="296.1" stroke="#383838" stroke-width="1"/>
<line x1="187.13" y1="206.4" x2="187.13" y2="209.4" stroke="#383838" stroke-width="1"/>
<text transform="translate(187.13,317.30) scale(0.885,1)" class="tk" font-size="14.7" text-anchor="middle">3</text>
<line x1="235.58" y1="299.1" x2="235.58" y2="296.1" stroke="#383838" stroke-width="1"/>
<line x1="235.58" y1="206.4" x2="235.58" y2="209.4" stroke="#383838" stroke-width="1"/>
<text transform="translate(235.58,317.30) scale(0.885,1)" class="tk" font-size="14.7" text-anchor="middle">4</text>
<line x1="41.8" y1="252.75" x2="44.8" y2="252.75" stroke="#383838" stroke-width="1"/>
<line x1="259.8" y1="252.75" x2="256.8" y2="252.75" stroke="#383838" stroke-width="1"/>
<text transform="translate(35.00,211.50) scale(0.885,1)" class="tk" font-size="14.7" text-anchor="end">2</text>
<text transform="translate(35.00,257.85) scale(0.885,1)" class="tk" font-size="14.7" text-anchor="end">0</text>
<text transform="translate(35.00,304.20) scale(0.885,1)" class="tk" font-size="14.7" text-anchor="end">-2</text>
<path d="M44.40,195.90 L50.40,202.60 M50.40,195.90 L44.40,202.60" stroke="#000" stroke-width="0.95" fill="none"/>
<text x="54.10" y="203.50" class="ex" font-size="14.2">10</text>
<text x="67.30" y="196.70" class="ex" font-size="11">-6</text>
<path d="M227.70,332.00 L233.70,338.60 M233.70,332.00 L227.70,338.60" stroke="#000" stroke-width="0.95" fill="none"/>
<text x="237.00" y="339.00" class="ex" font-size="14.2">10</text>
<text x="250.00" y="332.20" class="ex" font-size="11">-4</text>
<text x="151.40" y="336.10" class="lb" font-size="14.8" text-anchor="middle">Time (s)</text>
<text transform="translate(17.00,252.75) rotate(-90) scale(1.02,1)" text-anchor="middle" class="lb" font-size="14.8">Amplitude (mm)</text>
<text transform="translate(103.80,292.90) scale(0.885,1)" class="lb" font-size="14.8">D<tspan dx="1.0">Inc</tspan></text>
<text transform="translate(189.00,292.90) scale(0.9,1)" class="lb" font-size="14.8">ERef</text>
<text x="135.00" y="365.10" text-anchor="middle" class="cap" font-size="18.8">(<tspan font-weight="bold">c</tspan>)</text>
<clipPath id="cd"><rect x="324.3" y="206.6" width="218.59999999999997" height="97.6"/></clipPath>
<path d="M324.30,256.50 L324.61,256.48 L324.93,256.42 L325.24,256.33 L325.56,256.20 L325.87,256.05 L326.19,255.88 L326.50,255.70 L326.81,255.52 L327.13,255.35 L327.44,255.20 L327.76,255.07 L328.07,254.98 L328.39,254.92 L328.70,254.90 L329.02,254.93 L329.33,255.01 L329.65,255.15 L329.96,255.33 L330.28,255.55 L330.59,255.78 L330.91,256.02 L331.22,256.25 L331.54,256.47 L331.85,256.65 L332.17,256.79 L332.48,256.87 L332.80,256.90 L333.11,256.87 L333.42,256.76 L333.72,256.60 L334.03,256.38 L334.34,256.13 L334.65,255.84 L334.95,255.56 L335.26,255.27 L335.57,255.02 L335.88,254.80 L336.18,254.64 L336.49,254.53 L336.80,254.50 L337.10,254.54 L337.40,254.64 L337.70,254.82 L338.00,255.05 L338.30,255.32 L338.60,255.64 L338.90,255.98 L339.20,256.32 L339.50,256.66 L339.80,256.97 L340.10,257.25 L340.40,257.48 L340.70,257.66 L341.00,257.76 L341.30,257.80 L341.62,257.72 L341.93,257.49 L342.25,257.12 L342.56,256.63 L342.88,256.06 L343.19,255.43 L343.51,254.77 L343.82,254.14 L344.14,253.57 L344.45,253.08 L344.77,252.71 L345.08,252.48 L345.40,252.40 L345.71,252.51 L346.02,252.84 L346.32,253.37 L346.63,254.06 L346.94,254.88 L347.25,255.79 L347.55,256.71 L347.86,257.62 L348.17,258.44 L348.48,259.13 L348.78,259.66 L349.09,259.99 L349.40,260.10 L349.71,259.91 L350.02,259.34 L350.32,258.45 L350.63,257.27 L350.94,255.91 L351.25,254.45 L351.56,252.99 L351.87,251.62 L352.18,250.45 L352.48,249.56 L352.79,248.99 L353.10,248.80 L353.41,249.10 L353.72,250.00 L354.03,251.42 L354.33,253.28 L354.64,255.43 L354.95,257.75 L355.26,260.07 L355.57,262.22 L355.88,264.08 L356.18,265.50 L356.49,266.40 L356.80,266.70 L357.13,266.17 L357.45,264.60 L357.78,262.14 L358.11,258.98 L358.44,255.38 L358.76,251.62 L359.09,248.02 L359.42,244.86 L359.75,242.40 L360.07,240.83 L360.40,240.30 L360.71,240.97 L361.02,242.94 L361.33,246.03 L361.64,250.00 L361.95,254.54 L362.25,259.26 L362.56,263.80 L362.87,267.77 L363.18,270.86 L363.49,272.83 L363.80,273.50 L364.12,272.74 L364.44,270.52 L364.75,267.03 L365.07,262.54 L365.39,257.42 L365.71,252.08 L366.03,246.96 L366.35,242.47 L366.66,238.98 L366.98,236.76 L367.30,236.00 L367.62,236.79 L367.94,239.11 L368.25,242.76 L368.57,247.46 L368.89,252.81 L369.21,258.39 L369.53,263.74 L369.85,268.44 L370.16,272.09 L370.48,274.41 L370.80,275.20 L371.12,274.43 L371.44,272.19 L371.75,268.66 L372.07,264.12 L372.39,258.95 L372.71,253.55 L373.03,248.38 L373.35,243.84 L373.66,240.31 L373.98,238.07 L374.30,237.30 L374.62,238.12 L374.94,240.51 L375.26,244.23 L375.58,248.91 L375.90,254.10 L376.22,259.29 L376.54,263.97 L376.86,267.69 L377.18,270.08 L377.50,270.90 L377.81,270.27 L378.12,268.46 L378.43,265.62 L378.74,262.06 L379.05,258.10 L379.36,254.14 L379.67,250.58 L379.98,247.74 L380.29,245.93 L380.60,245.30 L380.92,245.76 L381.24,247.08 L381.57,249.10 L381.89,251.58 L382.21,254.22 L382.53,256.70 L382.86,258.72 L383.18,260.04 L383.50,260.50 L383.84,260.24 L384.18,259.52 L384.51,258.43 L384.85,257.15 L385.19,255.87 L385.52,254.78 L385.86,254.06 L386.20,253.80 L386.51,254.01 L386.82,254.61 L387.14,255.50 L387.45,256.55 L387.76,257.60 L388.07,258.49 L388.39,259.09 L388.70,259.30 L389.00,259.13 L389.30,258.63 L389.60,257.85 L389.90,256.84 L390.20,255.70 L390.50,254.50 L390.80,253.36 L391.10,252.35 L391.40,251.57 L391.70,251.07 L392.00,250.90 L392.30,251.13 L392.60,251.80 L392.90,252.85 L393.20,254.20 L393.50,255.75 L393.80,257.35 L394.10,258.90 L394.40,260.25 L394.70,261.30 L395.00,261.97 L395.30,262.20 L395.63,261.93 L395.95,261.14 L396.28,259.89 L396.61,258.28 L396.94,256.45 L397.26,254.55 L397.59,252.72 L397.92,251.11 L398.25,249.86 L398.57,249.07 L398.90,248.80 L399.20,249.08 L399.50,249.90 L399.80,251.18 L400.10,252.83 L400.40,254.72 L400.70,256.68 L401.00,258.57 L401.30,260.22 L401.60,261.50 L401.90,262.32 L402.20,262.60 L402.50,262.36 L402.80,261.67 L403.10,260.58 L403.40,259.18 L403.70,257.58 L404.00,255.92 L404.30,254.32 L404.60,252.92 L404.90,251.83 L405.20,251.14 L405.50,250.90 L405.82,251.09 L406.14,251.64 L406.46,252.49 L406.78,253.56 L407.10,254.75 L407.42,255.94 L407.74,257.01 L408.06,257.86 L408.38,258.41 L408.70,258.60 L409.02,258.48 L409.34,258.13 L409.67,257.60 L409.99,256.95 L410.31,256.25 L410.63,255.60 L410.96,255.07 L411.28,254.72 L411.60,254.60 L411.92,254.67 L412.24,254.86 L412.57,255.15 L412.89,255.51 L413.21,255.89 L413.53,256.25 L413.86,256.54 L414.18,256.73 L414.50,256.80 L414.80,256.73 L415.10,256.52 L415.40,256.20 L415.70,255.80 L416.00,255.35 L416.30,254.90 L416.60,254.50 L416.90,254.18 L417.20,253.97 L417.50,253.90 L417.80,254.04 L418.10,254.43 L418.40,255.06 L418.70,255.86 L419.00,256.77 L419.30,257.73 L419.60,258.64 L419.90,259.44 L420.20,260.07 L420.50,260.46 L420.80,260.60 L421.11,260.34 L421.42,259.58 L421.73,258.37 L422.04,256.83 L422.35,255.07 L422.65,253.23 L422.96,251.47 L423.27,249.93 L423.58,248.72 L423.89,247.96 L424.20,247.70 L424.50,248.06 L424.80,249.11 L425.10,250.77 L425.40,252.90 L425.70,255.33 L426.00,257.87 L426.30,260.30 L426.60,262.43 L426.90,264.09 L427.20,265.14 L427.50,265.50 L427.82,265.07 L428.14,263.83 L428.45,261.88 L428.77,259.36 L429.09,256.49 L429.41,253.51 L429.73,250.64 L430.05,248.12 L430.36,246.17 L430.68,244.93 L431.00,244.50 L431.32,244.99 L431.64,246.41 L431.96,248.62 L432.28,251.41 L432.60,254.50 L432.92,257.59 L433.24,260.38 L433.56,262.59 L433.88,264.01 L434.20,264.50 L434.51,264.15 L434.82,263.12 L435.13,261.51 L435.44,259.49 L435.75,257.25 L436.06,255.01 L436.37,252.99 L436.68,251.38 L436.99,250.35 L437.30,250.00 L437.61,250.23 L437.92,250.88 L438.23,251.88 L438.54,253.10 L438.86,254.40 L439.17,255.62 L439.48,256.62 L439.79,257.27 L440.10,257.50 L440.45,257.33 L440.80,256.85 L441.15,256.20 L441.50,255.55 L441.85,255.07 L442.20,254.90 L442.53,255.22 L442.87,256.10 L443.20,257.30 L443.53,258.50 L443.87,259.38 L444.20,259.70 L444.51,259.40 L444.82,258.53 L445.13,257.16 L445.44,255.40 L445.75,253.40 L446.05,251.30 L446.36,249.30 L446.67,247.54 L446.98,246.17 L447.29,245.30 L447.60,245.00 L447.92,245.75 L448.24,247.92 L448.57,251.25 L448.89,255.33 L449.21,259.67 L449.53,263.75 L449.86,267.08 L450.18,269.25 L450.50,270.00 L450.82,269.24 L451.14,267.04 L451.46,263.61 L451.78,259.29 L452.10,254.50 L452.42,249.71 L452.74,245.39 L453.06,241.96 L453.38,239.76 L453.70,239.00 L454.00,239.80 L454.30,242.10 L454.60,245.70 L454.90,250.23 L455.20,255.25 L455.50,260.27 L455.80,264.80 L456.10,268.40 L456.40,270.70 L456.70,271.50 L457.01,270.77 L457.32,268.64 L457.63,265.32 L457.94,261.14 L458.25,256.50 L458.56,251.86 L458.87,247.68 L459.18,244.36 L459.49,242.23 L459.80,241.50 L460.12,242.15 L460.44,244.02 L460.76,246.94 L461.08,250.62 L461.40,254.70 L461.72,258.78 L462.04,262.46 L462.36,265.38 L462.68,267.25 L463.00,267.90 L463.30,267.32 L463.60,265.62 L463.90,262.97 L464.20,259.64 L464.50,255.95 L464.80,252.26 L465.10,248.93 L465.40,246.28 L465.70,244.58 L466.00,244.00 L466.32,244.55 L466.64,246.14 L466.96,248.62 L467.28,251.74 L467.60,255.20 L467.92,258.66 L468.24,261.78 L468.56,264.26 L468.88,265.85 L469.20,266.40 L469.51,265.88 L469.82,264.36 L470.13,261.99 L470.44,259.01 L470.75,255.70 L471.06,252.39 L471.37,249.41 L471.68,247.04 L471.99,245.52 L472.30,245.00 L472.61,245.48 L472.92,246.88 L473.23,249.06 L473.54,251.81 L473.85,254.85 L474.16,257.89 L474.47,260.64 L474.78,262.82 L475.09,264.22 L475.40,264.70 L475.70,264.40 L476.00,263.50 L476.30,262.08 L476.60,260.23 L476.90,258.07 L477.20,255.75 L477.50,253.43 L477.80,251.28 L478.10,249.42 L478.40,248.00 L478.70,247.10 L479.00,246.80 L479.32,247.16 L479.64,248.20 L479.95,249.85 L480.27,251.97 L480.59,254.39 L480.91,256.91 L481.23,259.33 L481.55,261.45 L481.86,263.10 L482.18,264.14 L482.50,264.50 L482.82,264.17 L483.14,263.21 L483.45,261.69 L483.77,259.74 L484.09,257.51 L484.41,255.19 L484.73,252.96 L485.05,251.01 L485.36,249.49 L485.68,248.53 L486.00,248.20 L486.30,248.49 L486.60,249.34 L486.90,250.69 L487.20,252.41 L487.50,254.38 L487.80,256.42 L488.10,258.39 L488.40,260.11 L488.70,261.46 L489.00,262.31 L489.30,262.60 L489.61,262.40 L489.92,261.82 L490.23,260.90 L490.53,259.70 L490.84,258.30 L491.15,256.80 L491.46,255.30 L491.77,253.90 L492.07,252.70 L492.38,251.78 L492.69,251.20 L493.00,251.00 L493.31,251.21 L493.62,251.80 L493.93,252.73 L494.24,253.90 L494.55,255.20 L494.86,256.50 L495.17,257.67 L495.48,258.60 L495.79,259.19 L496.10,259.40 L496.40,259.27 L496.70,258.90 L497.00,258.33 L497.30,257.60 L497.60,256.80 L497.90,256.00 L498.20,255.27 L498.50,254.70 L498.80,254.33 L499.10,254.20 L499.41,254.31 L499.72,254.64 L500.03,255.15 L500.34,255.77 L500.66,256.43 L500.97,257.05 L501.28,257.56 L501.59,257.89 L501.90,258.00 L502.21,257.82 L502.52,257.29 L502.83,256.48 L503.14,255.48 L503.46,254.42 L503.77,253.43 L504.08,252.61 L504.39,252.08 L504.70,251.90 L505.00,252.15 L505.30,252.88 L505.60,254.02 L505.90,255.46 L506.20,257.05 L506.50,258.64 L506.80,260.08 L507.10,261.22 L507.40,261.95 L507.70,262.20 L508.02,261.90 L508.34,261.01 L508.65,259.61 L508.97,257.82 L509.29,255.77 L509.61,253.63 L509.93,251.58 L510.25,249.79 L510.56,248.39 L510.88,247.50 L511.20,247.20 L511.52,247.63 L511.84,248.86 L512.16,250.79 L512.48,253.21 L512.80,255.90 L513.12,258.59 L513.44,261.01 L513.76,262.94 L514.08,264.17 L514.40,264.60 L514.70,264.30 L515.00,263.41 L515.30,261.99 L515.60,260.15 L515.90,258.00 L516.20,255.70 L516.50,253.40 L516.80,251.25 L517.10,249.41 L517.40,247.99 L517.70,247.10 L518.00,246.80 L518.31,247.15 L518.62,248.17 L518.93,249.77 L519.24,251.83 L519.55,254.18 L519.85,256.62 L520.16,258.97 L520.47,261.03 L520.78,262.63 L521.09,263.65 L521.40,264.00 L521.72,263.75 L522.03,263.00 L522.35,261.82 L522.67,260.27 L522.98,258.48 L523.30,256.55 L523.62,254.62 L523.93,252.82 L524.25,251.28 L524.57,250.10 L524.88,249.35 L525.20,249.10 L525.52,249.36 L525.84,250.12 L526.16,251.31 L526.48,252.80 L526.80,254.45 L527.12,256.10 L527.44,257.59 L527.76,258.78 L528.08,259.54 L528.40,259.80 L528.70,259.73 L529.00,259.52 L529.30,259.19 L529.60,258.75 L529.90,258.21 L530.20,257.62 L530.50,257.00 L530.80,256.38 L531.10,255.79 L531.40,255.25 L531.70,254.81 L532.00,254.48 L532.30,254.27 L532.60,254.20 L532.92,254.25 L533.23,254.39 L533.55,254.61 L533.87,254.90 L534.18,255.24 L534.50,255.60 L534.82,255.96 L535.13,256.30 L535.45,256.59 L535.77,256.81 L536.08,256.95 L536.40,257.00 L536.72,256.94 L537.04,256.75 L537.36,256.46 L537.68,256.10 L538.00,255.70 L538.32,255.30 L538.64,254.94 L538.96,254.65 L539.28,254.46 L539.60,254.40 L539.93,254.40 L540.26,254.38 L540.59,254.36 L540.92,254.33 L541.25,254.30 L541.58,254.27 L541.91,254.24 L542.24,254.22 L542.57,254.20 L542.90,254.20" fill="none" stroke="#000" stroke-width="2.75" stroke-linejoin="round" clip-path="url(#cd)"/>
<rect x="324.3" y="208.6" width="218.59999999999997" height="93.6" fill="none" stroke="#383838" stroke-width="1.15"/>
<rect x="355.5" y="208.6" width="26.69999999999999" height="93.6" fill="none" stroke="#0000ff" stroke-width="1.6"/>
<rect x="444.8" y="208.6" width="20.899999999999977" height="93.6" fill="none" stroke="#0000ff" stroke-width="1.6"/>
<line x1="324.30" y1="302.2" x2="324.30" y2="299.2" stroke="#383838" stroke-width="1"/>
<line x1="324.30" y1="208.6" x2="324.30" y2="211.6" stroke="#383838" stroke-width="1"/>
<text transform="translate(324.30,320.40) scale(0.885,1)" class="tk" font-size="14.7" text-anchor="middle">0</text>
<line x1="372.88" y1="302.2" x2="372.88" y2="299.2" stroke="#383838" stroke-width="1"/>
<line x1="372.88" y1="208.6" x2="372.88" y2="211.6" stroke="#383838" stroke-width="1"/>
<text transform="translate(372.88,320.40) scale(0.885,1)" class="tk" font-size="14.7" text-anchor="middle">1</text>
<line x1="421.46" y1="302.2" x2="421.46" y2="299.2" stroke="#383838" stroke-width="1"/>
<line x1="421.46" y1="208.6" x2="421.46" y2="211.6" stroke="#383838" stroke-width="1"/>
<text transform="translate(421.46,320.40) scale(0.885,1)" class="tk" font-size="14.7" text-anchor="middle">2</text>
<line x1="470.03" y1="302.2" x2="470.03" y2="299.2" stroke="#383838" stroke-width="1"/>
<line x1="470.03" y1="208.6" x2="470.03" y2="211.6" stroke="#383838" stroke-width="1"/>
<text transform="translate(470.03,320.40) scale(0.885,1)" class="tk" font-size="14.7" text-anchor="middle">3</text>
<line x1="518.61" y1="302.2" x2="518.61" y2="299.2" stroke="#383838" stroke-width="1"/>
<line x1="518.61" y1="208.6" x2="518.61" y2="211.6" stroke="#383838" stroke-width="1"/>
<text transform="translate(518.61,320.40) scale(0.885,1)" class="tk" font-size="14.7" text-anchor="middle">4</text>
<line x1="324.3" y1="255.39999999999998" x2="327.3" y2="255.39999999999998" stroke="#383838" stroke-width="1"/>
<line x1="542.9" y1="255.39999999999998" x2="539.9" y2="255.39999999999998" stroke="#383838" stroke-width="1"/>
<text transform="translate(317.50,213.70) scale(0.885,1)" class="tk" font-size="14.7" text-anchor="end">5</text>
<text transform="translate(317.50,260.50) scale(0.885,1)" class="tk" font-size="14.7" text-anchor="end">0</text>
<text transform="translate(317.50,307.30) scale(0.885,1)" class="tk" font-size="14.7" text-anchor="end">-5</text>
<path d="M326.90,198.10 L332.90,204.80 M332.90,198.10 L326.90,204.80" stroke="#000" stroke-width="0.95" fill="none"/>
<text x="336.60" y="205.70" class="ex" font-size="14.2">10</text>
<text x="349.80" y="198.90" class="ex" font-size="11">-7</text>
<path d="M510.80,335.10 L516.80,341.70 M516.80,335.10 L510.80,341.70" stroke="#000" stroke-width="0.95" fill="none"/>
<text x="520.10" y="342.10" class="ex" font-size="14.2">10</text>
<text x="533.10" y="335.30" class="ex" font-size="11">-4</text>
<text x="434.20" y="339.20" class="lb" font-size="14.8" text-anchor="middle">Time (s)</text>
<text transform="translate(299.50,255.40) rotate(-90) scale(1.02,1)" text-anchor="middle" class="lb" font-size="14.8">Amplitude (mm)</text>
<text transform="translate(388.20,294.20) scale(0.885,1)" class="lb" font-size="14.8">D<tspan dx="1.0">Inc</tspan></text>
<text transform="translate(472.80,294.20) scale(0.9,1)" class="lb" font-size="14.8">ERef</text>
<text x="415.80" y="363.60" text-anchor="middle" class="cap" font-size="18.8">(<tspan font-weight="bold">d</tspan>)</text>
<clipPath id="ce"><rect x="40.9" y="388.1" width="219.29999999999998" height="97.5"/></clipPath>
<path d="M40.90,437.20 L41.21,437.21 L41.52,437.24 L41.83,437.28 L42.14,437.34 L42.45,437.40 L42.76,437.46 L43.07,437.52 L43.38,437.56 L43.69,437.59 L44.00,437.60 L44.31,437.58 L44.62,437.51 L44.92,437.40 L45.23,437.25 L45.54,437.08 L45.85,436.90 L46.15,436.70 L46.46,436.52 L46.77,436.35 L47.08,436.20 L47.38,436.09 L47.69,436.02 L48.00,436.00 L48.31,436.03 L48.62,436.14 L48.92,436.30 L49.23,436.52 L49.54,436.77 L49.85,437.06 L50.15,437.34 L50.46,437.63 L50.77,437.88 L51.08,438.10 L51.38,438.26 L51.69,438.37 L52.00,438.40 L52.32,438.37 L52.64,438.28 L52.96,438.13 L53.28,437.94 L53.60,437.70 L53.92,437.43 L54.24,437.15 L54.56,436.85 L54.88,436.57 L55.20,436.30 L55.52,436.06 L55.84,435.87 L56.16,435.72 L56.48,435.63 L56.80,435.60 L57.10,435.66 L57.40,435.84 L57.70,436.13 L58.00,436.50 L58.30,436.93 L58.60,437.40 L58.90,437.87 L59.20,438.30 L59.50,438.67 L59.80,438.96 L60.10,439.14 L60.40,439.20 L60.71,439.14 L61.02,438.95 L61.32,438.65 L61.63,438.25 L61.94,437.78 L62.25,437.27 L62.55,436.73 L62.86,436.22 L63.17,435.75 L63.48,435.35 L63.78,435.05 L64.09,434.86 L64.40,434.80 L64.71,434.87 L65.02,435.07 L65.32,435.40 L65.63,435.84 L65.94,436.35 L66.25,436.91 L66.55,437.49 L66.86,438.05 L67.17,438.56 L67.48,439.00 L67.78,439.33 L68.09,439.53 L68.40,439.60 L68.71,439.51 L69.02,439.23 L69.32,438.80 L69.63,438.22 L69.94,437.53 L70.25,436.79 L70.55,436.01 L70.86,435.27 L71.17,434.58 L71.48,434.00 L71.78,433.57 L72.09,433.29 L72.40,433.20 L72.71,433.30 L73.02,433.61 L73.32,434.11 L73.63,434.75 L73.94,435.52 L74.25,436.37 L74.55,437.23 L74.86,438.08 L75.17,438.85 L75.48,439.49 L75.78,439.99 L76.09,440.30 L76.40,440.40 L76.71,440.28 L77.02,439.92 L77.34,439.34 L77.65,438.55 L77.96,437.58 L78.27,436.46 L78.58,435.24 L78.89,433.96 L79.21,432.64 L79.52,431.36 L79.83,430.14 L80.14,429.02 L80.45,428.05 L80.76,427.26 L81.08,426.68 L81.39,426.32 L81.70,426.20 L82.01,427.00 L82.32,429.33 L82.63,432.96 L82.94,437.53 L83.25,442.60 L83.56,447.67 L83.87,452.24 L84.18,455.87 L84.49,458.20 L84.80,459.00 L85.12,457.39 L85.44,452.74 L85.77,445.62 L86.09,436.90 L86.41,427.60 L86.73,418.88 L87.06,411.76 L87.38,407.11 L87.70,405.50 L88.03,407.15 L88.36,411.95 L88.69,419.41 L89.02,428.82 L89.35,439.25 L89.68,449.68 L90.01,459.09 L90.34,466.55 L90.67,471.35 L91.00,473.00 L91.30,471.28 L91.60,466.29 L91.90,458.51 L92.20,448.71 L92.50,437.85 L92.80,426.99 L93.10,417.19 L93.40,409.41 L93.70,404.42 L94.00,402.70 L94.31,404.18 L94.62,408.47 L94.93,415.15 L95.24,423.57 L95.55,432.90 L95.86,442.23 L96.17,450.65 L96.48,457.33 L96.79,461.62 L97.10,463.10 L97.40,462.08 L97.70,459.14 L98.00,454.55 L98.30,448.76 L98.60,442.35 L98.90,435.94 L99.20,430.15 L99.50,425.56 L99.80,422.62 L100.10,421.60 L100.41,422.24 L100.72,424.08 L101.03,426.90 L101.34,430.36 L101.66,434.04 L101.97,437.50 L102.28,440.32 L102.59,442.16 L102.90,442.80 L103.22,442.62 L103.54,442.09 L103.87,441.27 L104.19,440.28 L104.51,439.22 L104.83,438.22 L105.16,437.41 L105.48,436.88 L105.80,436.70 L106.14,436.73 L106.48,436.80 L106.82,436.90 L107.16,436.97 L107.50,437.00 L107.80,436.93 L108.10,436.74 L108.40,436.45 L108.70,436.09 L109.00,435.71 L109.30,435.35 L109.60,435.06 L109.90,434.87 L110.20,434.80 L110.52,434.93 L110.84,435.30 L111.17,435.87 L111.49,436.58 L111.81,437.32 L112.13,438.02 L112.46,438.60 L112.78,438.97 L113.10,439.10 L113.40,439.03 L113.70,438.81 L114.00,438.48 L114.30,438.05 L114.60,437.56 L114.90,437.04 L115.20,436.55 L115.50,436.12 L115.80,435.79 L116.10,435.57 L116.40,435.50 L116.71,435.57 L117.03,435.78 L117.34,436.09 L117.65,436.45 L117.96,436.81 L118.28,437.12 L118.59,437.33 L118.90,437.40 L119.20,437.32 L119.50,437.12 L119.80,436.88 L120.10,436.68 L120.40,436.60 L120.76,436.81 L121.12,437.36 L121.48,438.04 L121.84,438.59 L122.20,438.80 L122.53,438.70 L122.86,438.42 L123.19,437.98 L123.52,437.42 L123.85,436.80 L124.18,436.18 L124.51,435.62 L124.84,435.18 L125.17,434.90 L125.50,434.80 L125.82,434.92 L126.14,435.27 L126.47,435.80 L126.79,436.45 L127.11,437.15 L127.43,437.80 L127.76,438.33 L128.08,438.68 L128.40,438.80 L128.72,438.72 L129.04,438.48 L129.36,438.12 L129.68,437.66 L130.00,437.15 L130.32,436.64 L130.64,436.18 L130.96,435.82 L131.28,435.58 L131.60,435.50 L131.92,435.60 L132.24,435.89 L132.57,436.32 L132.89,436.86 L133.21,437.44 L133.53,437.97 L133.86,438.41 L134.18,438.70 L134.50,438.80 L134.80,438.72 L135.10,438.48 L135.40,438.11 L135.70,437.63 L136.00,437.08 L136.30,436.52 L136.60,435.97 L136.90,435.49 L137.20,435.12 L137.50,434.88 L137.80,434.80 L138.11,434.88 L138.42,435.11 L138.73,435.49 L139.03,435.97 L139.34,436.54 L139.65,437.15 L139.96,437.76 L140.27,438.32 L140.57,438.81 L140.88,439.19 L141.19,439.42 L141.50,439.50 L141.81,439.42 L142.12,439.17 L142.42,438.77 L142.73,438.25 L143.04,437.63 L143.35,436.95 L143.65,436.25 L143.96,435.57 L144.27,434.95 L144.58,434.43 L144.88,434.03 L145.19,433.78 L145.50,433.70 L145.82,433.87 L146.14,434.36 L146.46,435.12 L146.78,436.08 L147.10,437.15 L147.42,438.22 L147.74,439.18 L148.06,439.94 L148.38,440.43 L148.70,440.60 L149.01,440.48 L149.32,440.11 L149.62,439.53 L149.93,438.77 L150.24,437.89 L150.55,436.95 L150.86,436.01 L151.17,435.12 L151.47,434.37 L151.78,433.79 L152.09,433.42 L152.40,433.30 L152.73,433.43 L153.05,433.79 L153.38,434.37 L153.71,435.11 L154.04,435.96 L154.36,436.84 L154.69,437.69 L155.02,438.43 L155.35,439.01 L155.67,439.37 L156.00,439.50 L156.33,439.40 L156.65,439.10 L156.98,438.62 L157.31,438.01 L157.64,437.31 L157.96,436.59 L158.29,435.89 L158.62,435.28 L158.95,434.80 L159.27,434.50 L159.60,434.40 L159.92,434.49 L160.24,434.74 L160.57,435.12 L160.89,435.60 L161.21,436.10 L161.53,436.57 L161.86,436.96 L162.18,437.21 L162.50,437.30 L162.83,437.29 L163.17,437.25 L163.50,437.20 L163.83,437.15 L164.17,437.11 L164.50,437.10 L164.80,437.22 L165.10,437.57 L165.40,438.09 L165.70,438.70 L166.00,439.31 L166.30,439.83 L166.60,440.18 L166.90,440.30 L167.20,440.05 L167.50,439.32 L167.80,438.18 L168.10,436.74 L168.40,435.15 L168.70,433.56 L169.00,432.12 L169.30,430.98 L169.60,430.25 L169.90,430.00 L170.21,430.42 L170.52,431.62 L170.83,433.50 L171.14,435.87 L171.45,438.50 L171.76,441.13 L172.07,443.50 L172.38,445.38 L172.69,446.58 L173.00,447.00 L173.32,446.37 L173.64,444.54 L173.97,441.75 L174.29,438.32 L174.61,434.68 L174.93,431.25 L175.26,428.46 L175.58,426.63 L175.90,426.00 L176.22,426.49 L176.54,427.92 L176.86,430.14 L177.18,432.94 L177.50,436.05 L177.82,439.16 L178.14,441.96 L178.46,444.18 L178.78,445.61 L179.10,446.10 L179.41,445.73 L179.72,444.65 L180.03,442.97 L180.34,440.85 L180.65,438.50 L180.96,436.15 L181.27,434.03 L181.58,432.35 L181.89,431.27 L182.20,430.90 L182.52,431.11 L182.84,431.70 L183.16,432.63 L183.48,433.80 L183.80,435.10 L184.12,436.40 L184.44,437.57 L184.76,438.50 L185.08,439.09 L185.40,439.30 L185.74,439.24 L186.07,439.08 L186.41,438.84 L186.75,438.55 L187.09,438.26 L187.43,438.02 L187.76,437.86 L188.10,437.80 L188.43,437.72 L188.75,437.49 L189.08,437.13 L189.41,436.66 L189.74,436.13 L190.06,435.57 L190.39,435.04 L190.72,434.57 L191.05,434.21 L191.37,433.98 L191.70,433.90 L192.01,434.09 L192.32,434.64 L192.63,435.49 L192.94,436.56 L193.25,437.75 L193.56,438.94 L193.87,440.01 L194.18,440.86 L194.49,441.41 L194.80,441.60 L195.11,441.37 L195.42,440.68 L195.73,439.62 L196.04,438.28 L196.35,436.80 L196.66,435.32 L196.97,433.98 L197.28,432.92 L197.59,432.23 L197.90,432.00 L198.21,432.28 L198.52,433.09 L198.83,434.32 L199.14,435.84 L199.46,437.46 L199.77,438.97 L200.08,440.21 L200.39,441.02 L200.70,441.30 L201.00,441.17 L201.30,440.78 L201.60,440.18 L201.90,439.40 L202.20,438.51 L202.50,437.59 L202.80,436.70 L203.10,435.92 L203.40,435.32 L203.70,434.93 L204.00,434.80 L204.31,434.85 L204.63,435.00 L204.94,435.24 L205.26,435.55 L205.57,435.93 L205.89,436.35 L206.20,436.80 L206.51,437.25 L206.83,437.67 L207.14,438.05 L207.46,438.36 L207.77,438.60 L208.09,438.75 L208.40,438.80 L208.71,438.74 L209.02,438.57 L209.32,438.30 L209.63,437.94 L209.94,437.51 L210.25,437.04 L210.55,436.56 L210.86,436.09 L211.17,435.66 L211.48,435.30 L211.78,435.03 L212.09,434.86 L212.40,434.80 L212.72,434.92 L213.04,435.25 L213.36,435.77 L213.68,436.42 L214.00,437.15 L214.32,437.88 L214.64,438.53 L214.96,439.05 L215.28,439.38 L215.60,439.50 L215.91,439.43 L216.22,439.21 L216.53,438.86 L216.83,438.40 L217.14,437.87 L217.45,437.30 L217.76,436.73 L218.07,436.20 L218.38,435.74 L218.68,435.39 L218.99,435.17 L219.30,435.10 L219.63,435.19 L219.95,435.45 L220.28,435.86 L220.61,436.39 L220.94,436.99 L221.26,437.61 L221.59,438.21 L221.92,438.74 L222.25,439.15 L222.57,439.41 L222.90,439.50 L223.21,439.41 L223.52,439.14 L223.82,438.72 L224.13,438.18 L224.44,437.54 L224.75,436.85 L225.06,436.16 L225.37,435.52 L225.68,434.98 L225.98,434.56 L226.29,434.29 L226.60,434.20 L226.90,434.32 L227.20,434.68 L227.50,435.23 L227.80,435.93 L228.10,436.70 L228.40,437.47 L228.70,438.17 L229.00,438.72 L229.30,439.08 L229.60,439.20 L229.92,439.13 L230.24,438.94 L230.56,438.64 L230.88,438.27 L231.20,437.85 L231.52,437.43 L231.84,437.06 L232.16,436.76 L232.48,436.57 L232.80,436.50 L233.14,436.51 L233.49,436.54 L233.83,436.58 L234.17,436.62 L234.51,436.66 L234.86,436.69 L235.20,436.70 L235.51,436.74 L235.82,436.87 L236.13,437.08 L236.44,437.34 L236.75,437.64 L237.05,437.96 L237.36,438.26 L237.67,438.52 L237.98,438.73 L238.29,438.86 L238.60,438.90 L238.91,438.80 L239.22,438.51 L239.53,438.05 L239.84,437.48 L240.15,436.85 L240.46,436.22 L240.77,435.65 L241.08,435.19 L241.39,434.90 L241.70,434.80 L242.01,434.88 L242.32,435.10 L242.63,435.44 L242.94,435.87 L243.25,436.35 L243.56,436.83 L243.87,437.26 L244.18,437.60 L244.49,437.82 L244.80,437.90 L245.14,437.90 L245.49,437.90 L245.83,437.90 L246.17,437.90 L246.51,437.90 L246.86,437.90 L247.20,437.90 L247.51,437.84 L247.82,437.65 L248.13,437.37 L248.44,436.99 L248.75,436.57 L249.05,436.13 L249.36,435.71 L249.67,435.33 L249.98,435.05 L250.29,434.86 L250.60,434.80 L250.91,434.94 L251.22,435.35 L251.53,436.00 L251.84,436.80 L252.15,437.70 L252.46,438.60 L252.77,439.40 L253.08,440.05 L253.39,440.46 L253.70,440.60 L254.01,440.45 L254.32,440.00 L254.63,439.31 L254.94,438.41 L255.25,437.38 L255.55,436.32 L255.86,435.29 L256.17,434.39 L256.48,433.70 L256.79,433.25 L257.10,433.10 L257.41,433.28 L257.72,433.79 L258.03,434.58 L258.34,435.59 L258.65,436.70 L258.96,437.81 L259.27,438.82 L259.58,439.61 L259.89,440.12 L260.20,440.30" fill="none" stroke="#000" stroke-width="2.75" stroke-linejoin="round" clip-path="url(#ce)"/>
<rect x="40.9" y="390.1" width="219.29999999999998" height="93.5" fill="none" stroke="#383838" stroke-width="1.15"/>
<rect x="79.1" y="390.1" width="26.5" height="93.5" fill="none" stroke="#0000ff" stroke-width="1.6"/>
<rect x="166.5" y="390.1" width="21.0" height="93.5" fill="none" stroke="#0000ff" stroke-width="1.6"/>
<line x1="40.90" y1="483.6" x2="40.90" y2="480.6" stroke="#383838" stroke-width="1"/>
<line x1="40.90" y1="390.1" x2="40.90" y2="393.1" stroke="#383838" stroke-width="1"/>
<text transform="translate(40.90,501.80) scale(0.885,1)" class="tk" font-size="14.7" text-anchor="middle">0</text>
<line x1="89.63" y1="483.6" x2="89.63" y2="480.6" stroke="#383838" stroke-width="1"/>
<line x1="89.63" y1="390.1" x2="89.63" y2="393.1" stroke="#383838" stroke-width="1"/>
<text transform="translate(89.63,501.80) scale(0.885,1)" class="tk" font-size="14.7" text-anchor="middle">1</text>
<line x1="138.37" y1="483.6" x2="138.37" y2="480.6" stroke="#383838" stroke-width="1"/>
<line x1="138.37" y1="390.1" x2="138.37" y2="393.1" stroke="#383838" stroke-width="1"/>
<text transform="translate(138.37,501.80) scale(0.885,1)" class="tk" font-size="14.7" text-anchor="middle">2</text>
<line x1="187.10" y1="483.6" x2="187.10" y2="480.6" stroke="#383838" stroke-width="1"/>
<line x1="187.10" y1="390.1" x2="187.10" y2="393.1" stroke="#383838" stroke-width="1"/>
<text transform="translate(187.10,501.80) scale(0.885,1)" class="tk" font-size="14.7" text-anchor="middle">3</text>
<line x1="235.83" y1="483.6" x2="235.83" y2="480.6" stroke="#383838" stroke-width="1"/>
<line x1="235.83" y1="390.1" x2="235.83" y2="393.1" stroke="#383838" stroke-width="1"/>
<text transform="translate(235.83,501.80) scale(0.885,1)" class="tk" font-size="14.7" text-anchor="middle">4</text>
<line x1="40.9" y1="436.85" x2="43.9" y2="436.85" stroke="#383838" stroke-width="1"/>
<line x1="260.2" y1="436.85" x2="257.2" y2="436.85" stroke="#383838" stroke-width="1"/>
<text transform="translate(34.10,395.20) scale(0.885,1)" class="tk" font-size="14.7" text-anchor="end">2</text>
<text transform="translate(34.10,441.95) scale(0.885,1)" class="tk" font-size="14.7" text-anchor="end">0</text>
<text transform="translate(34.10,488.70) scale(0.885,1)" class="tk" font-size="14.7" text-anchor="end">-2</text>
<path d="M43.50,379.60 L49.50,386.30 M49.50,379.60 L43.50,386.30" stroke="#000" stroke-width="0.95" fill="none"/>
<text x="53.20" y="387.20" class="ex" font-size="14.2">10</text>
<text x="66.40" y="380.40" class="ex" font-size="11">-6</text>
<path d="M228.10,516.50 L234.10,523.10 M234.10,516.50 L228.10,523.10" stroke="#000" stroke-width="0.95" fill="none"/>
<text x="237.40" y="523.50" class="ex" font-size="14.2">10</text>
<text x="250.40" y="516.70" class="ex" font-size="11">-4</text>
<text x="151.15" y="520.60" class="lb" font-size="14.8" text-anchor="middle">Time (s)</text>
<text transform="translate(16.10,436.85) rotate(-90) scale(1.02,1)" text-anchor="middle" class="lb" font-size="14.8">Amplitude (mm)</text>
<text transform="translate(111.50,480.20) scale(0.885,1)" class="lb" font-size="14.8">D<tspan dx="1.0">Inc</tspan></text>
<text transform="translate(197.10,480.20) scale(0.9,1)" class="lb" font-size="14.8">ERef</text>
<text x="135.20" y="548.70" text-anchor="middle" class="cap" font-size="18.8">(<tspan font-weight="bold">e</tspan>)</text>
<clipPath id="cf"><rect x="324.3" y="385.5" width="218.59999999999997" height="97.0"/></clipPath>
<path d="M324.30,433.70 L324.60,433.69 L324.90,433.66 L325.20,433.61 L325.50,433.55 L325.80,433.49 L326.10,433.41 L326.40,433.35 L326.70,433.29 L327.00,433.24 L327.30,433.21 L327.60,433.20 L327.92,433.24 L328.24,433.37 L328.55,433.58 L328.87,433.84 L329.19,434.14 L329.51,434.46 L329.83,434.76 L330.15,435.02 L330.46,435.23 L330.78,435.36 L331.10,435.40 L331.42,435.36 L331.73,435.25 L332.05,435.08 L332.37,434.85 L332.68,434.58 L333.00,434.30 L333.32,434.02 L333.63,433.75 L333.95,433.52 L334.27,433.35 L334.58,433.24 L334.90,433.20 L335.20,433.23 L335.50,433.33 L335.80,433.48 L336.10,433.68 L336.40,433.91 L336.70,434.17 L337.00,434.43 L337.30,434.69 L337.60,434.92 L337.90,435.12 L338.20,435.27 L338.50,435.37 L338.80,435.40 L339.10,435.37 L339.40,435.29 L339.70,435.15 L340.00,434.96 L340.30,434.73 L340.60,434.47 L340.90,434.19 L341.20,433.90 L341.50,433.61 L341.80,433.33 L342.10,433.07 L342.40,432.84 L342.70,432.65 L343.00,432.51 L343.30,432.43 L343.60,432.40 L343.92,432.48 L344.23,432.71 L344.55,433.09 L344.87,433.57 L345.18,434.14 L345.50,434.75 L345.82,435.36 L346.13,435.92 L346.45,436.41 L346.77,436.79 L347.08,437.02 L347.40,437.10 L347.72,436.95 L348.04,436.52 L348.35,435.84 L348.67,434.97 L348.99,433.97 L349.31,432.93 L349.63,431.93 L349.95,431.06 L350.26,430.38 L350.58,429.95 L350.90,429.80 L351.21,429.98 L351.52,430.51 L351.83,431.35 L352.14,432.43 L352.45,433.66 L352.75,434.94 L353.06,436.17 L353.37,437.25 L353.68,438.09 L353.99,438.62 L354.30,438.80 L354.62,438.63 L354.94,438.12 L355.25,437.32 L355.57,436.29 L355.89,435.11 L356.21,433.89 L356.53,432.71 L356.85,431.68 L357.16,430.88 L357.48,430.37 L357.80,430.20 L358.11,430.31 L358.42,430.64 L358.73,431.17 L359.04,431.84 L359.35,432.60 L359.65,433.40 L359.96,434.16 L360.27,434.83 L360.58,435.36 L360.89,435.69 L361.20,435.80 L361.54,435.83 L361.88,435.92 L362.21,436.05 L362.55,436.20 L362.89,436.35 L363.22,436.48 L363.56,436.57 L363.90,436.60 L364.21,436.43 L364.52,435.91 L364.82,435.09 L365.13,434.01 L365.44,432.73 L365.75,431.32 L366.05,429.88 L366.36,428.47 L366.67,427.19 L366.98,426.11 L367.28,425.29 L367.59,424.77 L367.90,424.60 L368.21,425.16 L368.52,426.80 L368.83,429.38 L369.14,432.70 L369.45,436.48 L369.75,440.42 L370.06,444.20 L370.37,447.52 L370.68,450.10 L370.99,451.74 L371.30,452.30 L371.62,451.26 L371.94,448.22 L372.26,443.50 L372.58,437.55 L372.90,430.95 L373.22,424.35 L373.54,418.40 L373.86,413.68 L374.18,410.64 L374.50,409.60 L374.82,411.16 L375.14,415.66 L375.47,422.55 L375.79,431.00 L376.11,440.00 L376.43,448.45 L376.76,455.34 L377.08,459.84 L377.40,461.40 L377.70,460.36 L378.00,457.32 L378.30,452.53 L378.60,446.38 L378.90,439.36 L379.20,432.04 L379.50,425.02 L379.80,418.87 L380.10,414.08 L380.40,411.04 L380.70,410.00 L381.00,411.04 L381.30,414.04 L381.60,418.72 L381.90,424.61 L382.20,431.15 L382.50,437.69 L382.80,443.58 L383.10,448.26 L383.40,451.26 L383.70,452.30 L384.02,451.60 L384.34,449.58 L384.66,446.43 L384.98,442.45 L385.30,438.05 L385.62,433.65 L385.94,429.67 L386.26,426.52 L386.58,424.50 L386.90,423.80 L387.20,424.12 L387.50,425.05 L387.80,426.50 L388.10,428.33 L388.40,430.35 L388.70,432.37 L389.00,434.20 L389.30,435.65 L389.60,436.58 L389.90,436.90 L390.21,436.69 L390.53,436.09 L390.84,435.23 L391.16,434.27 L391.47,433.41 L391.79,432.81 L392.10,432.60 L392.43,432.75 L392.75,433.17 L393.07,433.80 L393.40,434.55 L393.73,435.30 L394.05,435.93 L394.38,436.35 L394.70,436.50 L395.00,436.39 L395.30,436.08 L395.60,435.58 L395.90,434.93 L396.20,434.17 L396.50,433.35 L396.80,432.53 L397.10,431.77 L397.40,431.12 L397.70,430.62 L398.00,430.31 L398.30,430.20 L398.61,430.32 L398.92,430.68 L399.22,431.24 L399.53,431.99 L399.84,432.88 L400.15,433.85 L400.45,434.85 L400.76,435.82 L401.07,436.71 L401.38,437.46 L401.68,438.02 L401.99,438.38 L402.30,438.50 L402.62,438.28 L402.94,437.65 L403.25,436.65 L403.57,435.37 L403.89,433.91 L404.21,432.39 L404.53,430.93 L404.85,429.65 L405.16,428.65 L405.48,428.02 L405.80,427.80 L406.12,428.11 L406.44,429.01 L406.76,430.42 L407.08,432.19 L407.40,434.15 L407.72,436.11 L408.04,437.88 L408.36,439.29 L408.68,440.19 L409.00,440.50 L409.31,440.23 L409.62,439.44 L409.93,438.21 L410.24,436.67 L410.55,434.95 L410.86,433.23 L411.17,431.69 L411.48,430.46 L411.79,429.67 L412.10,429.40 L412.41,429.64 L412.72,430.32 L413.03,431.37 L413.34,432.66 L413.66,434.04 L413.97,435.32 L414.28,436.38 L414.59,437.06 L414.90,437.30 L415.21,437.13 L415.52,436.66 L415.83,435.92 L416.14,435.03 L416.46,434.07 L416.77,433.17 L417.08,432.44 L417.39,431.97 L417.70,431.80 L418.01,432.00 L418.32,432.58 L418.63,433.47 L418.94,434.57 L419.26,435.73 L419.57,436.82 L419.88,437.72 L420.19,438.30 L420.50,438.50 L420.80,438.28 L421.10,437.65 L421.40,436.65 L421.70,435.37 L422.00,433.91 L422.30,432.39 L422.60,430.93 L422.90,429.65 L423.20,428.65 L423.50,428.02 L423.80,427.80 L424.10,428.11 L424.40,429.00 L424.70,430.40 L425.00,432.15 L425.30,434.10 L425.60,436.05 L425.90,437.80 L426.20,439.20 L426.50,440.09 L426.80,440.40 L427.12,440.21 L427.45,439.64 L427.77,438.73 L428.10,437.55 L428.43,436.18 L428.75,434.70 L429.07,433.22 L429.40,431.85 L429.73,430.67 L430.05,429.76 L430.38,429.19 L430.70,429.00 L431.01,429.16 L431.32,429.61 L431.62,430.35 L431.93,431.31 L432.24,432.45 L432.55,433.71 L432.85,434.99 L433.16,436.25 L433.47,437.39 L433.78,438.35 L434.08,439.09 L434.39,439.54 L434.70,439.70 L435.00,439.52 L435.30,438.98 L435.60,438.13 L435.90,437.02 L436.20,435.73 L436.50,434.35 L436.80,432.97 L437.10,431.68 L437.40,430.57 L437.70,429.72 L438.00,429.18 L438.30,429.00 L438.61,429.18 L438.92,429.72 L439.23,430.55 L439.54,431.59 L439.85,432.75 L440.16,433.91 L440.47,434.95 L440.78,435.78 L441.09,436.32 L441.40,436.50 L441.71,436.47 L442.02,436.37 L442.33,436.23 L442.64,436.05 L442.96,435.85 L443.27,435.68 L443.58,435.53 L443.89,435.43 L444.20,435.40 L444.60,435.45 L445.00,435.55 L445.40,435.60 L445.71,435.33 L446.02,434.55 L446.34,433.38 L446.65,432.00 L446.96,430.62 L447.27,429.45 L447.59,428.67 L447.90,428.40 L448.20,428.79 L448.50,429.91 L448.80,431.66 L449.10,433.86 L449.40,436.30 L449.70,438.74 L450.00,440.94 L450.30,442.69 L450.60,443.81 L450.90,444.20 L451.22,443.79 L451.53,442.61 L451.85,440.71 L452.17,438.25 L452.48,435.38 L452.80,432.30 L453.12,429.22 L453.43,426.35 L453.75,423.89 L454.07,421.99 L454.38,420.81 L454.70,420.40 L455.02,421.10 L455.34,423.13 L455.66,426.29 L455.98,430.28 L456.30,434.70 L456.62,439.12 L456.94,443.11 L457.26,446.27 L457.58,448.30 L457.90,449.00 L458.21,448.26 L458.52,446.13 L458.83,442.80 L459.14,438.60 L459.45,433.95 L459.76,429.30 L460.07,425.10 L460.38,421.77 L460.69,419.64 L461.00,418.90 L461.31,419.76 L461.62,422.22 L461.93,426.00 L462.24,430.63 L462.56,435.57 L462.87,440.20 L463.18,443.98 L463.49,446.44 L463.80,447.30 L464.10,446.79 L464.40,445.30 L464.70,442.95 L465.00,439.93 L465.30,436.49 L465.60,432.91 L465.90,429.47 L466.20,426.45 L466.50,424.10 L466.80,422.61 L467.10,422.10 L467.42,422.64 L467.74,424.20 L468.06,426.63 L468.38,429.70 L468.70,433.10 L469.02,436.50 L469.34,439.57 L469.66,442.00 L469.98,443.56 L470.30,444.10 L470.62,443.63 L470.94,442.26 L471.26,440.12 L471.58,437.43 L471.90,434.45 L472.22,431.47 L472.54,428.78 L472.86,426.64 L473.18,425.27 L473.50,424.80 L473.80,425.15 L474.10,426.19 L474.40,427.82 L474.70,429.92 L475.00,432.30 L475.30,434.80 L475.60,437.18 L475.90,439.28 L476.20,440.91 L476.50,441.95 L476.80,442.30 L477.11,441.81 L477.42,440.38 L477.73,438.20 L478.04,435.52 L478.36,432.68 L478.67,430.00 L478.98,427.82 L479.29,426.39 L479.60,425.90 L479.91,426.32 L480.22,427.54 L480.53,429.45 L480.84,431.84 L481.15,434.50 L481.46,437.16 L481.77,439.55 L482.08,441.46 L482.39,442.68 L482.70,443.10 L483.02,442.75 L483.34,441.71 L483.65,440.08 L483.97,437.98 L484.29,435.60 L484.61,433.10 L484.93,430.72 L485.25,428.62 L485.56,426.99 L485.88,425.95 L486.20,425.60 L486.50,425.99 L486.80,427.11 L487.10,428.86 L487.40,431.06 L487.70,433.50 L488.00,435.94 L488.30,438.14 L488.60,439.89 L488.90,441.01 L489.20,441.40 L489.50,441.15 L489.80,440.43 L490.10,439.30 L490.40,437.88 L490.70,436.30 L491.00,434.72 L491.30,433.30 L491.60,432.17 L491.90,431.45 L492.20,431.20 L492.51,431.30 L492.82,431.60 L493.13,432.07 L493.44,432.65 L493.75,433.30 L494.06,433.95 L494.37,434.53 L494.68,435.00 L494.99,435.30 L495.30,435.40 L495.65,435.23 L496.00,434.77 L496.35,434.15 L496.70,433.52 L497.05,433.07 L497.40,432.90 L497.71,433.13 L498.03,433.77 L498.34,434.69 L498.66,435.71 L498.97,436.63 L499.29,437.27 L499.60,437.50 L499.91,437.34 L500.22,436.87 L500.53,436.12 L500.84,435.16 L501.15,434.07 L501.45,432.93 L501.76,431.84 L502.07,430.88 L502.38,430.13 L502.69,429.66 L503.00,429.50 L503.32,429.71 L503.64,430.31 L503.95,431.26 L504.27,432.48 L504.59,433.87 L504.91,435.33 L505.23,436.72 L505.55,437.94 L505.86,438.89 L506.18,439.49 L506.50,439.70 L506.80,439.53 L507.10,439.04 L507.40,438.26 L507.70,437.25 L508.00,436.07 L508.30,434.80 L508.60,433.53 L508.90,432.35 L509.20,431.34 L509.50,430.56 L509.80,430.07 L510.10,429.90 L510.43,430.07 L510.75,430.57 L511.08,431.36 L511.40,432.40 L511.73,433.61 L512.05,434.90 L512.38,436.19 L512.70,437.40 L513.02,438.44 L513.35,439.23 L513.67,439.73 L514.00,439.90 L514.32,439.66 L514.64,438.97 L514.95,437.88 L515.27,436.48 L515.59,434.88 L515.91,433.22 L516.23,431.62 L516.55,430.22 L516.86,429.13 L517.18,428.44 L517.50,428.20 L517.82,428.43 L518.14,429.09 L518.45,430.13 L518.77,431.47 L519.09,433.00 L519.41,434.60 L519.73,436.13 L520.05,437.47 L520.36,438.51 L520.68,439.17 L521.00,439.40 L521.32,439.26 L521.63,438.83 L521.95,438.16 L522.27,437.27 L522.58,436.25 L522.90,435.15 L523.22,434.05 L523.53,433.02 L523.85,432.14 L524.17,431.47 L524.48,431.04 L524.80,430.90 L525.10,430.96 L525.40,431.14 L525.70,431.42 L526.00,431.81 L526.30,432.28 L526.60,432.81 L526.90,433.40 L527.20,434.00 L527.50,434.60 L527.80,435.19 L528.10,435.72 L528.40,436.19 L528.70,436.58 L529.00,436.86 L529.30,437.04 L529.60,437.10 L529.93,436.98 L530.25,436.64 L530.58,436.09 L530.90,435.38 L531.23,434.54 L531.55,433.65 L531.88,432.76 L532.20,431.93 L532.52,431.21 L532.85,430.66 L533.17,430.32 L533.50,430.20 L533.83,430.34 L534.15,430.77 L534.48,431.44 L534.80,432.32 L535.12,433.35 L535.45,434.45 L535.77,435.55 L536.10,436.57 L536.42,437.46 L536.75,438.13 L537.07,438.56 L537.40,438.70 L537.70,438.52 L538.00,438.00 L538.30,437.20 L538.60,436.18 L538.90,435.05 L539.20,433.92 L539.50,432.90 L539.80,432.10 L540.10,431.58 L540.40,431.40 L540.71,431.52 L541.02,431.87 L541.34,432.39 L541.65,433.00 L541.96,433.61 L542.27,434.13 L542.59,434.48 L542.90,434.60" fill="none" stroke="#000" stroke-width="2.75" stroke-linejoin="round" clip-path="url(#cf)"/>
<rect x="324.3" y="387.5" width="218.59999999999997" height="93.0" fill="none" stroke="#383838" stroke-width="1.15"/>
<rect x="363.7" y="387.5" width="26.5" height="93.0" fill="none" stroke="#0000ff" stroke-width="1.6"/>
<rect x="450.6" y="387.5" width="21.0" height="93.0" fill="none" stroke="#0000ff" stroke-width="1.6"/>
<line x1="324.30" y1="480.5" x2="324.30" y2="477.5" stroke="#383838" stroke-width="1"/>
<line x1="324.30" y1="387.5" x2="324.30" y2="390.5" stroke="#383838" stroke-width="1"/>
<text transform="translate(324.30,498.70) scale(0.885,1)" class="tk" font-size="14.7" text-anchor="middle">0</text>
<line x1="372.88" y1="480.5" x2="372.88" y2="477.5" stroke="#383838" stroke-width="1"/>
<line x1="372.88" y1="387.5" x2="372.88" y2="390.5" stroke="#383838" stroke-width="1"/>
<text transform="translate(372.88,498.70) scale(0.885,1)" class="tk" font-size="14.7" text-anchor="middle">1</text>
<line x1="421.46" y1="480.5" x2="421.46" y2="477.5" stroke="#383838" stroke-width="1"/>
<line x1="421.46" y1="387.5" x2="421.46" y2="390.5" stroke="#383838" stroke-width="1"/>
<text transform="translate(421.46,498.70) scale(0.885,1)" class="tk" font-size="14.7" text-anchor="middle">2</text>
<line x1="470.03" y1="480.5" x2="470.03" y2="477.5" stroke="#383838" stroke-width="1"/>
<line x1="470.03" y1="387.5" x2="470.03" y2="390.5" stroke="#383838" stroke-width="1"/>
<text transform="translate(470.03,498.70) scale(0.885,1)" class="tk" font-size="14.7" text-anchor="middle">3</text>
<line x1="518.61" y1="480.5" x2="518.61" y2="477.5" stroke="#383838" stroke-width="1"/>
<line x1="518.61" y1="387.5" x2="518.61" y2="390.5" stroke="#383838" stroke-width="1"/>
<text transform="translate(518.61,498.70) scale(0.885,1)" class="tk" font-size="14.7" text-anchor="middle">4</text>
<line x1="324.3" y1="434.0" x2="327.3" y2="434.0" stroke="#383838" stroke-width="1"/>
<line x1="542.9" y1="434.0" x2="539.9" y2="434.0" stroke="#383838" stroke-width="1"/>
<text transform="translate(317.50,392.60) scale(0.885,1)" class="tk" font-size="14.7" text-anchor="end">5</text>
<text transform="translate(317.50,439.10) scale(0.885,1)" class="tk" font-size="14.7" text-anchor="end">0</text>
<text transform="translate(317.50,485.60) scale(0.885,1)" class="tk" font-size="14.7" text-anchor="end">-5</text>
<path d="M326.90,377.00 L332.90,383.70 M332.90,377.00 L326.90,383.70" stroke="#000" stroke-width="0.95" fill="none"/>
<text x="336.60" y="384.60" class="ex" font-size="14.2">10</text>
<text x="349.80" y="377.80" class="ex" font-size="11">-7</text>
<path d="M510.80,513.40 L516.80,520.00 M516.80,513.40 L510.80,520.00" stroke="#000" stroke-width="0.95" fill="none"/>
<text x="520.10" y="520.40" class="ex" font-size="14.2">10</text>
<text x="533.10" y="513.60" class="ex" font-size="11">-4</text>
<text x="434.20" y="517.50" class="lb" font-size="14.8" text-anchor="middle">Time (s)</text>
<text transform="translate(299.50,434.00) rotate(-90) scale(1.02,1)" text-anchor="middle" class="lb" font-size="14.8">Amplitude (mm)</text>
<text transform="translate(397.30,476.10) scale(0.885,1)" class="lb" font-size="14.8">D<tspan dx="1.0">Inc</tspan></text>
<text transform="translate(481.70,476.10) scale(0.9,1)" class="lb" font-size="14.8">ERef</text>
<text x="415.00" y="548.10" text-anchor="middle" class="cap" font-size="18.8">(<tspan font-weight="bold">f</tspan>)</text>
</svg>
</body></html>
